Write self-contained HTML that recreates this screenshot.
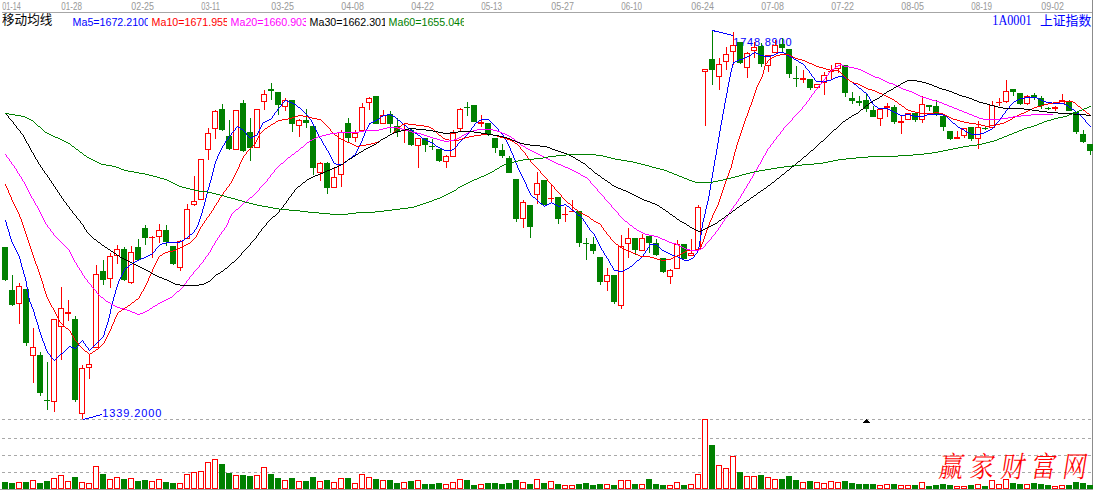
<!DOCTYPE html>
<html lang="zh"><head><meta charset="utf-8"><title>上证指数 移动均线</title>
<style>html,body{margin:0;padding:0;background:#fff;overflow:hidden}svg{display:block}svg text{opacity:.995}text{font-family:"Liberation Sans","Noto Sans CJK SC",sans-serif}.cj{font-family:"Liberation Serif","Noto Serif CJK SC","Noto Sans CJK SC",serif}</style></head><body>
<svg width="1093" height="490" viewBox="0 0 1093 490">
<rect width="1093" height="490" fill="#fff"/>
<g shape-rendering="crispEdges">
<rect x="2" y="12" width="1091" height="1" fill="#a6a6a6"/>
<rect x="1092" y="0" width="1" height="490" fill="#8c8c8c"/>
<rect x="0" y="489" width="1093" height="1" fill="#a0a0a0"/>
<path d="M2 419.5H1091" stroke="#a8a8a8" stroke-width="1" stroke-dasharray="3 3" fill="none"/>
<path d="M2 438.5H1091" stroke="#a8a8a8" stroke-width="1" stroke-dasharray="3 3" fill="none"/>
<path d="M2 455.5H1091" stroke="#a8a8a8" stroke-width="1" stroke-dasharray="3 3" fill="none"/>
<path d="M2 472.5H1091" stroke="#a8a8a8" stroke-width="1" stroke-dasharray="3 3" fill="none"/>
</g>
<g font-size="10.4" fill="#989898">
<text x="2.3" y="10" textLength="18.5" lengthAdjust="spacingAndGlyphs">01-14</text>
<text x="61.3" y="10" textLength="20.6" lengthAdjust="spacingAndGlyphs">01-28</text>
<text x="131.3" y="10" textLength="22.7" lengthAdjust="spacingAndGlyphs">02-25</text>
<text x="201.3" y="10" textLength="18.5" lengthAdjust="spacingAndGlyphs">03-11</text>
<text x="271.3" y="10" textLength="22.7" lengthAdjust="spacingAndGlyphs">03-25</text>
<text x="341.3" y="10" textLength="22.7" lengthAdjust="spacingAndGlyphs">04-08</text>
<text x="411.3" y="10" textLength="22.7" lengthAdjust="spacingAndGlyphs">04-22</text>
<text x="481.3" y="10" textLength="20.6" lengthAdjust="spacingAndGlyphs">05-13</text>
<text x="551.3" y="10" textLength="22.7" lengthAdjust="spacingAndGlyphs">05-27</text>
<text x="621.3" y="10" textLength="20.6" lengthAdjust="spacingAndGlyphs">06-10</text>
<text x="691.3" y="10" textLength="22.7" lengthAdjust="spacingAndGlyphs">06-24</text>
<text x="761.3" y="10" textLength="22.7" lengthAdjust="spacingAndGlyphs">07-08</text>
<text x="831.3" y="10" textLength="22.7" lengthAdjust="spacingAndGlyphs">07-22</text>
<text x="901.3" y="10" textLength="22.7" lengthAdjust="spacingAndGlyphs">08-05</text>
<text x="971.3" y="10" textLength="20.6" lengthAdjust="spacingAndGlyphs">08-19</text>
<text x="1041.3" y="10" textLength="22.7" lengthAdjust="spacingAndGlyphs">09-02</text>
</g>
<text x="2" y="24.3" font-size="12.6" fill="#000">移动均线</text>
<defs>
<clipPath id="c0"><rect x="72" y="13" width="76" height="16"/></clipPath>
<clipPath id="c1"><rect x="151" y="13" width="76" height="16"/></clipPath>
<clipPath id="c2"><rect x="230" y="13" width="76" height="16"/></clipPath>
<clipPath id="c3"><rect x="309" y="13" width="76" height="16"/></clipPath>
<clipPath id="c4"><rect x="388" y="13" width="76" height="16"/></clipPath>
</defs>
<g clip-path="url(#c0)"><text transform="translate(72.6,25.8) scale(0.936,1)" font-size="11.4" fill="#0000ff">Ma5=1672.2100</text></g>
<g clip-path="url(#c1)"><text transform="translate(151.6,25.8) scale(0.936,1)" font-size="11.4" fill="#ff0000">Ma10=1671.9550</text></g>
<g clip-path="url(#c2)"><text transform="translate(230.6,25.8) scale(0.936,1)" font-size="11.4" fill="#ff00ff">Ma20=1660.9030</text></g>
<g clip-path="url(#c3)"><text transform="translate(309.6,25.8) scale(0.936,1)" font-size="11.4" fill="#000000">Ma30=1662.3010</text></g>
<g clip-path="url(#c4)"><text transform="translate(388.6,25.8) scale(0.936,1)" font-size="11.4" fill="#008000">Ma60=1655.0460</text></g>
<text class="cj" x="992.3" y="25.1" font-size="14" fill="#0000ff" textLength="39.3" lengthAdjust="spacingAndGlyphs">1A0001</text>
<text x="1040" y="25" font-size="12.8" fill="#0000ff">上证指数</text>
<text x="733.3" y="46" font-size="11" fill="#0000ff" textLength="58.2" lengthAdjust="spacing">1748.8900</text>
<text x="102.3" y="417" font-size="11" fill="#0000ff" textLength="59" lengthAdjust="spacing">1339.2000</text>
<g shape-rendering="crispEdges">
<rect x="2" y="482" width="6" height="7" fill="#008000"/>
<rect x="5" y="247" width="1" height="34" fill="#008000"/>
<rect x="2" y="247" width="6" height="33" fill="#008000"/>
<rect x="9" y="483" width="6" height="6" fill="#008000"/>
<rect x="12" y="275" width="1" height="31" fill="#008000"/>
<rect x="9" y="290" width="6" height="15" fill="#008000"/>
<rect x="16.5" y="482.5" width="5" height="6" fill="#fff" stroke="#ff0000"/>
<rect x="19" y="283" width="1" height="3" fill="#ff0000"/>
<rect x="19" y="304" width="1" height="20" fill="#ff0000"/>
<rect x="16.5" y="286.5" width="5" height="17" fill="#fff" stroke="#ff0000"/>
<rect x="23" y="482" width="6" height="7" fill="#008000"/>
<rect x="26" y="289" width="1" height="57" fill="#008000"/>
<rect x="23" y="289" width="6" height="54" fill="#008000"/>
<rect x="30.5" y="480.5" width="5" height="8" fill="#fff" stroke="#ff0000"/>
<rect x="33" y="328" width="1" height="19" fill="#ff0000"/>
<rect x="33" y="356" width="1" height="27" fill="#ff0000"/>
<rect x="30.5" y="347.5" width="5" height="8" fill="#fff" stroke="#ff0000"/>
<rect x="37" y="483" width="6" height="6" fill="#008000"/>
<rect x="40" y="352" width="1" height="44" fill="#008000"/>
<rect x="37" y="355" width="6" height="38" fill="#008000"/>
<rect x="44" y="481" width="6" height="8" fill="#008000"/>
<rect x="47" y="362" width="1" height="48" fill="#008000"/>
<rect x="44" y="400" width="6" height="1" fill="#008000"/>
<rect x="51.5" y="478.5" width="5" height="10" fill="#fff" stroke="#ff0000"/>
<rect x="54" y="402" width="1" height="10" fill="#ff0000"/>
<rect x="51.5" y="319.5" width="5" height="82" fill="#fff" stroke="#ff0000"/>
<rect x="58.5" y="475.5" width="5" height="13" fill="#fff" stroke="#ff0000"/>
<rect x="61" y="287" width="1" height="21" fill="#ff0000"/>
<rect x="61" y="327" width="1" height="33" fill="#ff0000"/>
<rect x="58.5" y="308.5" width="5" height="18" fill="#fff" stroke="#ff0000"/>
<rect x="65.5" y="481.5" width="5" height="7" fill="#fff" stroke="#ff0000"/>
<rect x="68" y="300" width="1" height="12" fill="#ff0000"/>
<rect x="68" y="314" width="1" height="7" fill="#ff0000"/>
<rect x="65" y="312" width="6" height="2" fill="#ff0000"/>
<rect x="72" y="477" width="6" height="12" fill="#008000"/>
<rect x="75" y="316" width="1" height="86" fill="#008000"/>
<rect x="72" y="319" width="6" height="81" fill="#008000"/>
<rect x="79.5" y="482.5" width="5" height="6" fill="#fff" stroke="#ff0000"/>
<rect x="82" y="365" width="1" height="3" fill="#ff0000"/>
<rect x="82" y="414" width="1" height="5" fill="#ff0000"/>
<rect x="79.5" y="368.5" width="5" height="45" fill="#fff" stroke="#ff0000"/>
<rect x="86.5" y="483.5" width="5" height="5" fill="#fff" stroke="#ff0000"/>
<rect x="89" y="355" width="1" height="9" fill="#ff0000"/>
<rect x="89" y="368" width="1" height="11" fill="#ff0000"/>
<rect x="86.5" y="364.5" width="5" height="3" fill="#fff" stroke="#ff0000"/>
<rect x="93.5" y="466.5" width="5" height="22" fill="#fff" stroke="#ff0000"/>
<rect x="96" y="265" width="1" height="9" fill="#ff0000"/>
<rect x="93.5" y="274.5" width="5" height="73" fill="#fff" stroke="#ff0000"/>
<rect x="100" y="474" width="6" height="15" fill="#008000"/>
<rect x="103" y="260" width="1" height="25" fill="#008000"/>
<rect x="100" y="271" width="6" height="9" fill="#008000"/>
<rect x="107.5" y="479.5" width="5" height="9" fill="#fff" stroke="#ff0000"/>
<rect x="110" y="253" width="1" height="3" fill="#ff0000"/>
<rect x="110" y="279" width="1" height="9" fill="#ff0000"/>
<rect x="107.5" y="256.5" width="5" height="22" fill="#fff" stroke="#ff0000"/>
<rect x="114.5" y="477.5" width="5" height="11" fill="#fff" stroke="#ff0000"/>
<rect x="117" y="245" width="1" height="4" fill="#ff0000"/>
<rect x="117" y="256" width="1" height="8" fill="#ff0000"/>
<rect x="114.5" y="249.5" width="5" height="6" fill="#fff" stroke="#ff0000"/>
<rect x="121" y="479" width="6" height="10" fill="#008000"/>
<rect x="124" y="247" width="1" height="34" fill="#008000"/>
<rect x="121" y="249" width="6" height="31" fill="#008000"/>
<rect x="128.5" y="478.5" width="5" height="10" fill="#fff" stroke="#ff0000"/>
<rect x="131" y="246" width="1" height="6" fill="#ff0000"/>
<rect x="131" y="283" width="1" height="1" fill="#ff0000"/>
<rect x="128.5" y="252.5" width="5" height="30" fill="#fff" stroke="#ff0000"/>
<rect x="135" y="481" width="6" height="8" fill="#008000"/>
<rect x="138" y="239" width="1" height="21" fill="#008000"/>
<rect x="135" y="247" width="6" height="13" fill="#008000"/>
<rect x="142" y="480" width="6" height="9" fill="#008000"/>
<rect x="145" y="225" width="1" height="20" fill="#008000"/>
<rect x="142" y="228" width="6" height="10" fill="#008000"/>
<rect x="149.5" y="481.5" width="5" height="7" fill="#fff" stroke="#ff0000"/>
<rect x="152" y="236" width="1" height="1" fill="#ff0000"/>
<rect x="152" y="238" width="1" height="20" fill="#ff0000"/>
<rect x="149" y="237" width="6" height="1" fill="#ff0000"/>
<rect x="156.5" y="479.5" width="5" height="9" fill="#fff" stroke="#ff0000"/>
<rect x="159" y="224" width="1" height="6" fill="#ff0000"/>
<rect x="159" y="237" width="1" height="6" fill="#ff0000"/>
<rect x="156.5" y="230.5" width="5" height="6" fill="#fff" stroke="#ff0000"/>
<rect x="163" y="482" width="6" height="7" fill="#008000"/>
<rect x="166" y="225" width="1" height="21" fill="#008000"/>
<rect x="163" y="230" width="6" height="12" fill="#008000"/>
<rect x="170" y="483" width="6" height="6" fill="#008000"/>
<rect x="173" y="246" width="1" height="19" fill="#008000"/>
<rect x="170" y="246" width="6" height="18" fill="#008000"/>
<rect x="177.5" y="483.5" width="5" height="5" fill="#fff" stroke="#ff0000"/>
<rect x="180" y="240" width="1" height="1" fill="#ff0000"/>
<rect x="180" y="268" width="1" height="3" fill="#ff0000"/>
<rect x="177.5" y="241.5" width="5" height="26" fill="#fff" stroke="#ff0000"/>
<rect x="184.5" y="474.5" width="5" height="14" fill="#fff" stroke="#ff0000"/>
<rect x="187" y="204" width="1" height="5" fill="#ff0000"/>
<rect x="184.5" y="209.5" width="5" height="29" fill="#fff" stroke="#ff0000"/>
<rect x="191.5" y="472.5" width="5" height="16" fill="#fff" stroke="#ff0000"/>
<rect x="194" y="176" width="1" height="25" fill="#ff0000"/>
<rect x="194" y="205" width="1" height="1" fill="#ff0000"/>
<rect x="191.5" y="201.5" width="5" height="3" fill="#fff" stroke="#ff0000"/>
<rect x="198.5" y="471.5" width="5" height="17" fill="#fff" stroke="#ff0000"/>
<rect x="198.5" y="159.5" width="5" height="40" fill="#fff" stroke="#ff0000"/>
<rect x="205.5" y="462.5" width="5" height="26" fill="#fff" stroke="#ff0000"/>
<rect x="208" y="128" width="1" height="5" fill="#ff0000"/>
<rect x="208" y="150" width="1" height="10" fill="#ff0000"/>
<rect x="205.5" y="133.5" width="5" height="16" fill="#fff" stroke="#ff0000"/>
<rect x="212.5" y="459.5" width="5" height="29" fill="#fff" stroke="#ff0000"/>
<rect x="215" y="110" width="1" height="1" fill="#ff0000"/>
<rect x="215" y="129" width="1" height="10" fill="#ff0000"/>
<rect x="212.5" y="111.5" width="5" height="17" fill="#fff" stroke="#ff0000"/>
<rect x="219" y="464" width="6" height="25" fill="#008000"/>
<rect x="222" y="104" width="1" height="27" fill="#008000"/>
<rect x="219" y="109" width="6" height="21" fill="#008000"/>
<rect x="226" y="473" width="6" height="16" fill="#008000"/>
<rect x="229" y="120" width="1" height="30" fill="#008000"/>
<rect x="226" y="136" width="6" height="13" fill="#008000"/>
<rect x="233.5" y="475.5" width="5" height="13" fill="#fff" stroke="#ff0000"/>
<rect x="233.5" y="110.5" width="5" height="39" fill="#fff" stroke="#ff0000"/>
<rect x="240" y="475" width="6" height="14" fill="#008000"/>
<rect x="243" y="100" width="1" height="52" fill="#008000"/>
<rect x="240" y="103" width="6" height="48" fill="#008000"/>
<rect x="247" y="476" width="6" height="13" fill="#008000"/>
<rect x="250" y="118" width="1" height="43" fill="#008000"/>
<rect x="247" y="132" width="6" height="16" fill="#008000"/>
<rect x="254.5" y="475.5" width="5" height="13" fill="#fff" stroke="#ff0000"/>
<rect x="254.5" y="109.5" width="5" height="38" fill="#fff" stroke="#ff0000"/>
<rect x="261.5" y="467.5" width="5" height="21" fill="#fff" stroke="#ff0000"/>
<rect x="264" y="90" width="1" height="4" fill="#ff0000"/>
<rect x="264" y="102" width="1" height="8" fill="#ff0000"/>
<rect x="261.5" y="94.5" width="5" height="7" fill="#fff" stroke="#ff0000"/>
<rect x="268" y="474" width="6" height="15" fill="#008000"/>
<rect x="271" y="83" width="1" height="17" fill="#008000"/>
<rect x="268" y="89" width="6" height="2" fill="#008000"/>
<rect x="275" y="478" width="6" height="11" fill="#008000"/>
<rect x="278" y="92" width="1" height="23" fill="#008000"/>
<rect x="275" y="92" width="6" height="13" fill="#008000"/>
<rect x="282.5" y="480.5" width="5" height="8" fill="#fff" stroke="#ff0000"/>
<rect x="285" y="98" width="1" height="2" fill="#ff0000"/>
<rect x="285" y="107" width="1" height="4" fill="#ff0000"/>
<rect x="282.5" y="100.5" width="5" height="6" fill="#fff" stroke="#ff0000"/>
<rect x="289" y="478" width="6" height="11" fill="#008000"/>
<rect x="292" y="100" width="1" height="32" fill="#008000"/>
<rect x="289" y="100" width="6" height="24" fill="#008000"/>
<rect x="296.5" y="481.5" width="5" height="7" fill="#fff" stroke="#ff0000"/>
<rect x="299" y="119" width="1" height="1" fill="#ff0000"/>
<rect x="299" y="126" width="1" height="11" fill="#ff0000"/>
<rect x="296.5" y="120.5" width="5" height="5" fill="#fff" stroke="#ff0000"/>
<rect x="303" y="481" width="6" height="8" fill="#008000"/>
<rect x="306" y="109" width="1" height="19" fill="#008000"/>
<rect x="303" y="120" width="6" height="3" fill="#008000"/>
<rect x="310" y="477" width="6" height="12" fill="#008000"/>
<rect x="313" y="126" width="1" height="49" fill="#008000"/>
<rect x="310" y="126" width="6" height="42" fill="#008000"/>
<rect x="317.5" y="481.5" width="5" height="7" fill="#fff" stroke="#ff0000"/>
<rect x="320" y="162" width="1" height="1" fill="#ff0000"/>
<rect x="320" y="173" width="1" height="8" fill="#ff0000"/>
<rect x="317.5" y="163.5" width="5" height="9" fill="#fff" stroke="#ff0000"/>
<rect x="324" y="480" width="6" height="9" fill="#008000"/>
<rect x="327" y="162" width="1" height="32" fill="#008000"/>
<rect x="324" y="163" width="6" height="25" fill="#008000"/>
<rect x="331.5" y="482.5" width="5" height="6" fill="#fff" stroke="#ff0000"/>
<rect x="334" y="168" width="1" height="9" fill="#ff0000"/>
<rect x="331.5" y="177.5" width="5" height="10" fill="#fff" stroke="#ff0000"/>
<rect x="338.5" y="478.5" width="5" height="10" fill="#fff" stroke="#ff0000"/>
<rect x="341" y="130" width="1" height="2" fill="#ff0000"/>
<rect x="341" y="175" width="1" height="12" fill="#ff0000"/>
<rect x="338.5" y="132.5" width="5" height="42" fill="#fff" stroke="#ff0000"/>
<rect x="345" y="478" width="6" height="11" fill="#008000"/>
<rect x="348" y="118" width="1" height="25" fill="#008000"/>
<rect x="345" y="123" width="6" height="15" fill="#008000"/>
<rect x="352.5" y="483.5" width="5" height="5" fill="#fff" stroke="#ff0000"/>
<rect x="355" y="130" width="1" height="3" fill="#ff0000"/>
<rect x="355" y="138" width="1" height="4" fill="#ff0000"/>
<rect x="352.5" y="133.5" width="5" height="4" fill="#fff" stroke="#ff0000"/>
<rect x="359.5" y="474.5" width="5" height="14" fill="#fff" stroke="#ff0000"/>
<rect x="362" y="103" width="1" height="4" fill="#ff0000"/>
<rect x="359.5" y="107.5" width="5" height="23" fill="#fff" stroke="#ff0000"/>
<rect x="366.5" y="477.5" width="5" height="11" fill="#fff" stroke="#ff0000"/>
<rect x="369" y="97" width="1" height="1" fill="#ff0000"/>
<rect x="369" y="103" width="1" height="7" fill="#ff0000"/>
<rect x="366.5" y="98.5" width="5" height="4" fill="#fff" stroke="#ff0000"/>
<rect x="373" y="479" width="6" height="10" fill="#008000"/>
<rect x="376" y="96" width="1" height="28" fill="#008000"/>
<rect x="373" y="96" width="6" height="28" fill="#008000"/>
<rect x="380.5" y="480.5" width="5" height="8" fill="#fff" stroke="#ff0000"/>
<rect x="383" y="110" width="1" height="5" fill="#ff0000"/>
<rect x="380.5" y="115.5" width="5" height="8" fill="#fff" stroke="#ff0000"/>
<rect x="387" y="480" width="6" height="9" fill="#008000"/>
<rect x="390" y="111" width="1" height="22" fill="#008000"/>
<rect x="387" y="114" width="6" height="10" fill="#008000"/>
<rect x="394" y="483" width="6" height="6" fill="#008000"/>
<rect x="397" y="118" width="1" height="19" fill="#008000"/>
<rect x="394" y="126" width="6" height="6" fill="#008000"/>
<rect x="401.5" y="482.5" width="5" height="6" fill="#fff" stroke="#ff0000"/>
<rect x="404" y="123" width="1" height="7" fill="#ff0000"/>
<rect x="404" y="131" width="1" height="12" fill="#ff0000"/>
<rect x="401" y="130" width="6" height="1" fill="#ff0000"/>
<rect x="408" y="481" width="6" height="8" fill="#008000"/>
<rect x="411" y="128" width="1" height="18" fill="#008000"/>
<rect x="408" y="130" width="6" height="15" fill="#008000"/>
<rect x="415.5" y="480.5" width="5" height="8" fill="#fff" stroke="#ff0000"/>
<rect x="418" y="146" width="1" height="22" fill="#ff0000"/>
<rect x="415.5" y="138.5" width="5" height="7" fill="#fff" stroke="#ff0000"/>
<rect x="422" y="484" width="6" height="5" fill="#008000"/>
<rect x="425" y="138" width="1" height="14" fill="#008000"/>
<rect x="422" y="138" width="6" height="7" fill="#008000"/>
<rect x="429" y="484" width="6" height="5" fill="#008000"/>
<rect x="432" y="139" width="1" height="11" fill="#008000"/>
<rect x="429" y="146" width="6" height="1" fill="#008000"/>
<rect x="436" y="483" width="6" height="6" fill="#008000"/>
<rect x="439" y="149" width="1" height="13" fill="#008000"/>
<rect x="436" y="149" width="6" height="12" fill="#008000"/>
<rect x="443.5" y="484.5" width="5" height="4" fill="#fff" stroke="#ff0000"/>
<rect x="446" y="155" width="1" height="1" fill="#ff0000"/>
<rect x="446" y="162" width="1" height="6" fill="#ff0000"/>
<rect x="443.5" y="156.5" width="5" height="5" fill="#fff" stroke="#ff0000"/>
<rect x="450.5" y="482.5" width="5" height="6" fill="#fff" stroke="#ff0000"/>
<rect x="453" y="130" width="1" height="3" fill="#ff0000"/>
<rect x="450.5" y="133.5" width="5" height="23" fill="#fff" stroke="#ff0000"/>
<rect x="457.5" y="479.5" width="5" height="9" fill="#fff" stroke="#ff0000"/>
<rect x="460" y="108" width="1" height="1" fill="#ff0000"/>
<rect x="460" y="129" width="1" height="3" fill="#ff0000"/>
<rect x="457.5" y="109.5" width="5" height="19" fill="#fff" stroke="#ff0000"/>
<rect x="464" y="480" width="6" height="9" fill="#008000"/>
<rect x="467" y="102" width="1" height="14" fill="#008000"/>
<rect x="464" y="107" width="6" height="1" fill="#008000"/>
<rect x="471" y="485" width="6" height="4" fill="#008000"/>
<rect x="474" y="105" width="1" height="17" fill="#008000"/>
<rect x="471" y="105" width="6" height="17" fill="#008000"/>
<rect x="478.5" y="484.5" width="5" height="4" fill="#fff" stroke="#ff0000"/>
<rect x="481" y="115" width="1" height="7" fill="#ff0000"/>
<rect x="481" y="124" width="1" height="3" fill="#ff0000"/>
<rect x="478" y="122" width="6" height="2" fill="#ff0000"/>
<rect x="485" y="483" width="6" height="6" fill="#008000"/>
<rect x="488" y="123" width="1" height="13" fill="#008000"/>
<rect x="485" y="123" width="6" height="11" fill="#008000"/>
<rect x="492" y="483" width="6" height="6" fill="#008000"/>
<rect x="495" y="138" width="1" height="15" fill="#008000"/>
<rect x="492" y="138" width="6" height="10" fill="#008000"/>
<rect x="499" y="484" width="6" height="5" fill="#008000"/>
<rect x="502" y="144" width="1" height="14" fill="#008000"/>
<rect x="499" y="150" width="6" height="6" fill="#008000"/>
<rect x="506" y="483" width="6" height="6" fill="#008000"/>
<rect x="509" y="156" width="1" height="17" fill="#008000"/>
<rect x="506" y="158" width="6" height="15" fill="#008000"/>
<rect x="513" y="480" width="6" height="9" fill="#008000"/>
<rect x="516" y="179" width="1" height="43" fill="#008000"/>
<rect x="513" y="179" width="6" height="40" fill="#008000"/>
<rect x="520.5" y="482.5" width="5" height="6" fill="#fff" stroke="#ff0000"/>
<rect x="523" y="200" width="1" height="2" fill="#ff0000"/>
<rect x="523" y="219" width="1" height="9" fill="#ff0000"/>
<rect x="520.5" y="202.5" width="5" height="16" fill="#fff" stroke="#ff0000"/>
<rect x="527" y="484" width="6" height="5" fill="#008000"/>
<rect x="530" y="205" width="1" height="33" fill="#008000"/>
<rect x="527" y="205" width="6" height="22" fill="#008000"/>
<rect x="534.5" y="479.5" width="5" height="9" fill="#fff" stroke="#ff0000"/>
<rect x="537" y="172" width="1" height="11" fill="#ff0000"/>
<rect x="537" y="195" width="1" height="9" fill="#ff0000"/>
<rect x="534.5" y="183.5" width="5" height="11" fill="#fff" stroke="#ff0000"/>
<rect x="541" y="483" width="6" height="6" fill="#008000"/>
<rect x="544" y="180" width="1" height="25" fill="#008000"/>
<rect x="541" y="180" width="6" height="25" fill="#008000"/>
<rect x="548.5" y="481.5" width="5" height="7" fill="#fff" stroke="#ff0000"/>
<rect x="551" y="185" width="1" height="13" fill="#ff0000"/>
<rect x="551" y="199" width="1" height="3" fill="#ff0000"/>
<rect x="548" y="198" width="6" height="1" fill="#ff0000"/>
<rect x="555" y="484" width="6" height="5" fill="#008000"/>
<rect x="558" y="197" width="1" height="27" fill="#008000"/>
<rect x="555" y="197" width="6" height="22" fill="#008000"/>
<rect x="562.5" y="485.5" width="5" height="3" fill="#fff" stroke="#ff0000"/>
<rect x="565" y="207" width="1" height="7" fill="#ff0000"/>
<rect x="565" y="215" width="1" height="7" fill="#ff0000"/>
<rect x="562" y="214" width="6" height="1" fill="#ff0000"/>
<rect x="569.5" y="485.5" width="5" height="3" fill="#fff" stroke="#ff0000"/>
<rect x="572" y="200" width="1" height="11" fill="#ff0000"/>
<rect x="569" y="211" width="6" height="1" fill="#ff0000"/>
<rect x="576" y="484" width="6" height="5" fill="#008000"/>
<rect x="579" y="211" width="1" height="36" fill="#008000"/>
<rect x="576" y="211" width="6" height="32" fill="#008000"/>
<rect x="583" y="483" width="6" height="6" fill="#008000"/>
<rect x="586" y="238" width="1" height="22" fill="#008000"/>
<rect x="583" y="243" width="6" height="1" fill="#008000"/>
<rect x="590" y="485" width="6" height="4" fill="#008000"/>
<rect x="593" y="237" width="1" height="17" fill="#008000"/>
<rect x="590" y="244" width="6" height="7" fill="#008000"/>
<rect x="597" y="484" width="6" height="5" fill="#008000"/>
<rect x="600" y="257" width="1" height="28" fill="#008000"/>
<rect x="597" y="257" width="6" height="25" fill="#008000"/>
<rect x="604.5" y="484.5" width="5" height="4" fill="#fff" stroke="#ff0000"/>
<rect x="607" y="268" width="1" height="7" fill="#ff0000"/>
<rect x="607" y="282" width="1" height="9" fill="#ff0000"/>
<rect x="604.5" y="275.5" width="5" height="6" fill="#fff" stroke="#ff0000"/>
<rect x="611" y="485" width="6" height="4" fill="#008000"/>
<rect x="614" y="275" width="1" height="29" fill="#008000"/>
<rect x="611" y="275" width="6" height="27" fill="#008000"/>
<rect x="618.5" y="480.5" width="5" height="8" fill="#fff" stroke="#ff0000"/>
<rect x="621" y="235" width="1" height="11" fill="#ff0000"/>
<rect x="621" y="306" width="1" height="3" fill="#ff0000"/>
<rect x="618.5" y="246.5" width="5" height="59" fill="#fff" stroke="#ff0000"/>
<rect x="625.5" y="480.5" width="5" height="8" fill="#fff" stroke="#ff0000"/>
<rect x="628" y="228" width="1" height="10" fill="#ff0000"/>
<rect x="628" y="244" width="1" height="14" fill="#ff0000"/>
<rect x="625.5" y="238.5" width="5" height="5" fill="#fff" stroke="#ff0000"/>
<rect x="632" y="484" width="6" height="5" fill="#008000"/>
<rect x="635" y="238" width="1" height="17" fill="#008000"/>
<rect x="632" y="238" width="6" height="12" fill="#008000"/>
<rect x="639.5" y="484.5" width="5" height="4" fill="#fff" stroke="#ff0000"/>
<rect x="642" y="234" width="1" height="4" fill="#ff0000"/>
<rect x="639.5" y="238.5" width="5" height="12" fill="#fff" stroke="#ff0000"/>
<rect x="646" y="479" width="6" height="10" fill="#008000"/>
<rect x="649" y="236" width="1" height="17" fill="#008000"/>
<rect x="646" y="236" width="6" height="7" fill="#008000"/>
<rect x="653" y="484" width="6" height="5" fill="#008000"/>
<rect x="656" y="239" width="1" height="17" fill="#008000"/>
<rect x="653" y="243" width="6" height="12" fill="#008000"/>
<rect x="660" y="485" width="6" height="4" fill="#008000"/>
<rect x="663" y="258" width="1" height="15" fill="#008000"/>
<rect x="660" y="258" width="6" height="14" fill="#008000"/>
<rect x="667.5" y="485.5" width="5" height="3" fill="#fff" stroke="#ff0000"/>
<rect x="670" y="269" width="1" height="1" fill="#ff0000"/>
<rect x="670" y="277" width="1" height="7" fill="#ff0000"/>
<rect x="667.5" y="270.5" width="5" height="6" fill="#fff" stroke="#ff0000"/>
<rect x="674.5" y="482.5" width="5" height="6" fill="#fff" stroke="#ff0000"/>
<rect x="677" y="240" width="1" height="4" fill="#ff0000"/>
<rect x="674.5" y="244.5" width="5" height="24" fill="#fff" stroke="#ff0000"/>
<rect x="681" y="485" width="6" height="4" fill="#008000"/>
<rect x="684" y="244" width="1" height="15" fill="#008000"/>
<rect x="681" y="244" width="6" height="15" fill="#008000"/>
<rect x="688.5" y="484.5" width="5" height="4" fill="#fff" stroke="#ff0000"/>
<rect x="691" y="239" width="1" height="14" fill="#ff0000"/>
<rect x="688.5" y="253.5" width="5" height="2" fill="#fff" stroke="#ff0000"/>
<rect x="695.5" y="474.5" width="5" height="14" fill="#fff" stroke="#ff0000"/>
<rect x="698" y="205" width="1" height="2" fill="#ff0000"/>
<rect x="695.5" y="207.5" width="5" height="42" fill="#fff" stroke="#ff0000"/>
<rect x="702.5" y="419.5" width="5" height="69" fill="#fff" stroke="#ff0000"/>
<rect x="705" y="72" width="1" height="54" fill="#ff0000"/>
<rect x="702.5" y="69.5" width="5" height="2" fill="#fff" stroke="#ff0000"/>
<rect x="709" y="445" width="6" height="44" fill="#008000"/>
<rect x="712" y="30" width="1" height="55" fill="#008000"/>
<rect x="709" y="59" width="6" height="11" fill="#008000"/>
<rect x="716.5" y="465.5" width="5" height="23" fill="#fff" stroke="#ff0000"/>
<rect x="719" y="58" width="1" height="6" fill="#ff0000"/>
<rect x="719" y="77" width="1" height="13" fill="#ff0000"/>
<rect x="716.5" y="64.5" width="5" height="12" fill="#fff" stroke="#ff0000"/>
<rect x="723.5" y="468.5" width="5" height="20" fill="#fff" stroke="#ff0000"/>
<rect x="726" y="47" width="1" height="7" fill="#ff0000"/>
<rect x="726" y="62" width="1" height="8" fill="#ff0000"/>
<rect x="723.5" y="54.5" width="5" height="7" fill="#fff" stroke="#ff0000"/>
<rect x="730.5" y="456.5" width="5" height="32" fill="#fff" stroke="#ff0000"/>
<rect x="733" y="32" width="1" height="13" fill="#ff0000"/>
<rect x="733" y="52" width="1" height="13" fill="#ff0000"/>
<rect x="730.5" y="45.5" width="5" height="6" fill="#fff" stroke="#ff0000"/>
<rect x="737" y="472" width="6" height="17" fill="#008000"/>
<rect x="740" y="42" width="1" height="22" fill="#008000"/>
<rect x="737" y="42" width="6" height="21" fill="#008000"/>
<rect x="744.5" y="476.5" width="5" height="12" fill="#fff" stroke="#ff0000"/>
<rect x="747" y="52" width="1" height="1" fill="#ff0000"/>
<rect x="747" y="68" width="1" height="10" fill="#ff0000"/>
<rect x="744.5" y="53.5" width="5" height="14" fill="#fff" stroke="#ff0000"/>
<rect x="751.5" y="476.5" width="5" height="12" fill="#fff" stroke="#ff0000"/>
<rect x="754" y="42" width="1" height="5" fill="#ff0000"/>
<rect x="754" y="51" width="1" height="7" fill="#ff0000"/>
<rect x="751.5" y="47.5" width="5" height="3" fill="#fff" stroke="#ff0000"/>
<rect x="758" y="475" width="6" height="14" fill="#008000"/>
<rect x="761" y="43" width="1" height="24" fill="#008000"/>
<rect x="758" y="46" width="6" height="18" fill="#008000"/>
<rect x="765.5" y="477.5" width="5" height="11" fill="#fff" stroke="#ff0000"/>
<rect x="768" y="66" width="1" height="6" fill="#ff0000"/>
<rect x="765.5" y="55.5" width="5" height="10" fill="#fff" stroke="#ff0000"/>
<rect x="772.5" y="479.5" width="5" height="9" fill="#fff" stroke="#ff0000"/>
<rect x="775" y="40" width="1" height="5" fill="#ff0000"/>
<rect x="772.5" y="45.5" width="5" height="7" fill="#fff" stroke="#ff0000"/>
<rect x="779" y="479" width="6" height="10" fill="#008000"/>
<rect x="782" y="38" width="1" height="14" fill="#008000"/>
<rect x="779" y="44" width="6" height="4" fill="#008000"/>
<rect x="786" y="476" width="6" height="13" fill="#008000"/>
<rect x="789" y="49" width="1" height="29" fill="#008000"/>
<rect x="786" y="49" width="6" height="25" fill="#008000"/>
<rect x="793" y="480" width="6" height="9" fill="#008000"/>
<rect x="796" y="66" width="1" height="21" fill="#008000"/>
<rect x="793" y="78" width="6" height="1" fill="#008000"/>
<rect x="800.5" y="482.5" width="5" height="6" fill="#fff" stroke="#ff0000"/>
<rect x="803" y="70" width="1" height="8" fill="#ff0000"/>
<rect x="803" y="80" width="1" height="3" fill="#ff0000"/>
<rect x="800" y="78" width="6" height="2" fill="#ff0000"/>
<rect x="807" y="481" width="6" height="8" fill="#008000"/>
<rect x="810" y="79" width="1" height="11" fill="#008000"/>
<rect x="807" y="79" width="6" height="9" fill="#008000"/>
<rect x="814.5" y="482.5" width="5" height="6" fill="#fff" stroke="#ff0000"/>
<rect x="814.5" y="84.5" width="5" height="3" fill="#fff" stroke="#ff0000"/>
<rect x="821.5" y="483.5" width="5" height="5" fill="#fff" stroke="#ff0000"/>
<rect x="824" y="72" width="1" height="3" fill="#ff0000"/>
<rect x="824" y="83" width="1" height="12" fill="#ff0000"/>
<rect x="821.5" y="75.5" width="5" height="7" fill="#fff" stroke="#ff0000"/>
<rect x="828.5" y="481.5" width="5" height="7" fill="#fff" stroke="#ff0000"/>
<rect x="831" y="65" width="1" height="6" fill="#ff0000"/>
<rect x="831" y="72" width="1" height="8" fill="#ff0000"/>
<rect x="828" y="71" width="6" height="1" fill="#ff0000"/>
<rect x="835.5" y="482.5" width="5" height="6" fill="#fff" stroke="#ff0000"/>
<rect x="838" y="69" width="1" height="4" fill="#ff0000"/>
<rect x="835.5" y="63.5" width="5" height="5" fill="#fff" stroke="#ff0000"/>
<rect x="842" y="481" width="6" height="8" fill="#008000"/>
<rect x="845" y="65" width="1" height="32" fill="#008000"/>
<rect x="842" y="65" width="6" height="28" fill="#008000"/>
<rect x="849" y="483" width="6" height="6" fill="#008000"/>
<rect x="852" y="92" width="1" height="12" fill="#008000"/>
<rect x="849" y="98" width="6" height="3" fill="#008000"/>
<rect x="856" y="484" width="6" height="5" fill="#008000"/>
<rect x="859" y="96" width="1" height="10" fill="#008000"/>
<rect x="856" y="101" width="6" height="2" fill="#008000"/>
<rect x="863" y="484" width="6" height="5" fill="#008000"/>
<rect x="866" y="94" width="1" height="18" fill="#008000"/>
<rect x="863" y="100" width="6" height="9" fill="#008000"/>
<rect x="870" y="484" width="6" height="5" fill="#008000"/>
<rect x="873" y="106" width="1" height="11" fill="#008000"/>
<rect x="870" y="110" width="6" height="7" fill="#008000"/>
<rect x="877.5" y="485.5" width="5" height="3" fill="#fff" stroke="#ff0000"/>
<rect x="880" y="119" width="1" height="7" fill="#ff0000"/>
<rect x="877.5" y="109.5" width="5" height="9" fill="#fff" stroke="#ff0000"/>
<rect x="884.5" y="484.5" width="5" height="4" fill="#fff" stroke="#ff0000"/>
<rect x="887" y="103" width="1" height="3" fill="#ff0000"/>
<rect x="887" y="108" width="1" height="9" fill="#ff0000"/>
<rect x="884" y="106" width="6" height="2" fill="#ff0000"/>
<rect x="891" y="484" width="6" height="5" fill="#008000"/>
<rect x="894" y="105" width="1" height="19" fill="#008000"/>
<rect x="891" y="107" width="6" height="15" fill="#008000"/>
<rect x="898.5" y="485.5" width="5" height="3" fill="#fff" stroke="#ff0000"/>
<rect x="901" y="116" width="1" height="5" fill="#ff0000"/>
<rect x="901" y="123" width="1" height="11" fill="#ff0000"/>
<rect x="898" y="121" width="6" height="2" fill="#ff0000"/>
<rect x="905.5" y="485.5" width="5" height="3" fill="#fff" stroke="#ff0000"/>
<rect x="905.5" y="113.5" width="5" height="6" fill="#fff" stroke="#ff0000"/>
<rect x="912" y="485" width="6" height="4" fill="#008000"/>
<rect x="915" y="113" width="1" height="9" fill="#008000"/>
<rect x="912" y="113" width="6" height="7" fill="#008000"/>
<rect x="919.5" y="482.5" width="5" height="6" fill="#fff" stroke="#ff0000"/>
<rect x="922" y="96" width="1" height="8" fill="#ff0000"/>
<rect x="922" y="120" width="1" height="3" fill="#ff0000"/>
<rect x="919.5" y="104.5" width="5" height="15" fill="#fff" stroke="#ff0000"/>
<rect x="926" y="486" width="6" height="3" fill="#008000"/>
<rect x="929" y="105" width="1" height="6" fill="#008000"/>
<rect x="926" y="105" width="6" height="2" fill="#008000"/>
<rect x="933" y="485" width="6" height="4" fill="#008000"/>
<rect x="936" y="100" width="1" height="16" fill="#008000"/>
<rect x="933" y="106" width="6" height="8" fill="#008000"/>
<rect x="940" y="484" width="6" height="5" fill="#008000"/>
<rect x="943" y="116" width="1" height="15" fill="#008000"/>
<rect x="940" y="116" width="6" height="11" fill="#008000"/>
<rect x="947" y="485" width="6" height="4" fill="#008000"/>
<rect x="950" y="131" width="1" height="9" fill="#008000"/>
<rect x="947" y="131" width="6" height="8" fill="#008000"/>
<rect x="954.5" y="486.5" width="5" height="2" fill="#fff" stroke="#ff0000"/>
<rect x="957" y="131" width="1" height="6" fill="#ff0000"/>
<rect x="954" y="137" width="6" height="2" fill="#ff0000"/>
<rect x="961.5" y="486.5" width="5" height="2" fill="#fff" stroke="#ff0000"/>
<rect x="964" y="136" width="1" height="2" fill="#ff0000"/>
<rect x="961.5" y="128.5" width="5" height="7" fill="#fff" stroke="#ff0000"/>
<rect x="968" y="485" width="6" height="4" fill="#008000"/>
<rect x="971" y="127" width="1" height="14" fill="#008000"/>
<rect x="968" y="127" width="6" height="12" fill="#008000"/>
<rect x="975.5" y="484.5" width="5" height="4" fill="#fff" stroke="#ff0000"/>
<rect x="978" y="121" width="1" height="6" fill="#ff0000"/>
<rect x="978" y="139" width="1" height="10" fill="#ff0000"/>
<rect x="975.5" y="127.5" width="5" height="11" fill="#fff" stroke="#ff0000"/>
<rect x="982" y="486" width="6" height="3" fill="#008000"/>
<rect x="985" y="126" width="1" height="4" fill="#008000"/>
<rect x="982" y="128" width="6" height="1" fill="#008000"/>
<rect x="989.5" y="480.5" width="5" height="8" fill="#fff" stroke="#ff0000"/>
<rect x="992" y="101" width="1" height="4" fill="#ff0000"/>
<rect x="989.5" y="105.5" width="5" height="22" fill="#fff" stroke="#ff0000"/>
<rect x="996.5" y="484.5" width="5" height="4" fill="#fff" stroke="#ff0000"/>
<rect x="999" y="98" width="1" height="4" fill="#ff0000"/>
<rect x="999" y="103" width="1" height="3" fill="#ff0000"/>
<rect x="996" y="102" width="6" height="1" fill="#ff0000"/>
<rect x="1003.5" y="479.5" width="5" height="9" fill="#fff" stroke="#ff0000"/>
<rect x="1006" y="80" width="1" height="11" fill="#ff0000"/>
<rect x="1006" y="102" width="1" height="1" fill="#ff0000"/>
<rect x="1003.5" y="91.5" width="5" height="10" fill="#fff" stroke="#ff0000"/>
<rect x="1010" y="483" width="6" height="6" fill="#008000"/>
<rect x="1013" y="89" width="1" height="7" fill="#008000"/>
<rect x="1010" y="89" width="6" height="3" fill="#008000"/>
<rect x="1017" y="484" width="6" height="5" fill="#008000"/>
<rect x="1020" y="93" width="1" height="12" fill="#008000"/>
<rect x="1017" y="93" width="6" height="11" fill="#008000"/>
<rect x="1024.5" y="484.5" width="5" height="4" fill="#fff" stroke="#ff0000"/>
<rect x="1027" y="95" width="1" height="1" fill="#ff0000"/>
<rect x="1027" y="104" width="1" height="1" fill="#ff0000"/>
<rect x="1024.5" y="96.5" width="5" height="7" fill="#fff" stroke="#ff0000"/>
<rect x="1031" y="483" width="6" height="6" fill="#008000"/>
<rect x="1034" y="93" width="1" height="7" fill="#008000"/>
<rect x="1031" y="95" width="6" height="2" fill="#008000"/>
<rect x="1038" y="484" width="6" height="5" fill="#008000"/>
<rect x="1041" y="96" width="1" height="13" fill="#008000"/>
<rect x="1038" y="98" width="6" height="8" fill="#008000"/>
<rect x="1045" y="485" width="6" height="4" fill="#008000"/>
<rect x="1048" y="107" width="1" height="3" fill="#008000"/>
<rect x="1045" y="108" width="6" height="1" fill="#008000"/>
<rect x="1052.5" y="486.5" width="5" height="2" fill="#fff" stroke="#ff0000"/>
<rect x="1055" y="106" width="1" height="1" fill="#ff0000"/>
<rect x="1055" y="109" width="1" height="2" fill="#ff0000"/>
<rect x="1052" y="107" width="6" height="2" fill="#ff0000"/>
<rect x="1059.5" y="485.5" width="5" height="3" fill="#fff" stroke="#ff0000"/>
<rect x="1062" y="94" width="1" height="6" fill="#ff0000"/>
<rect x="1059.5" y="100.5" width="5" height="3" fill="#fff" stroke="#ff0000"/>
<rect x="1066" y="485" width="6" height="4" fill="#008000"/>
<rect x="1069" y="100" width="1" height="11" fill="#008000"/>
<rect x="1066" y="101" width="6" height="10" fill="#008000"/>
<rect x="1073" y="482" width="6" height="7" fill="#008000"/>
<rect x="1076" y="112" width="1" height="22" fill="#008000"/>
<rect x="1073" y="112" width="6" height="20" fill="#008000"/>
<rect x="1080" y="483" width="6" height="6" fill="#008000"/>
<rect x="1083" y="130" width="1" height="13" fill="#008000"/>
<rect x="1080" y="134" width="6" height="8" fill="#008000"/>
<rect x="1087" y="485" width="6" height="4" fill="#008000"/>
<rect x="1090" y="144" width="1" height="11" fill="#008000"/>
<rect x="1087" y="144" width="6" height="7" fill="#008000"/>
<path fill="#0000ff" d="M5 220h1v2h-1zM6 222h1v4h-1zM7 226h1v3h-1zM8 229h1v3h-1zM9 232h1v4h-1zM10 236h1v3h-1zM11 239h1v3h-1zM12 242h1v2h-1zM13 244h1v2h-1zM14 246h1v2h-1zM15 248h1v2h-1zM16 250h1v2h-1zM17 252h1v2h-1zM18 254h1v2h-1zM19 256h1v3h-1zM20 259h1v4h-1zM21 263h1v4h-1zM22 267h1v3h-1zM23 270h1v4h-1zM24 274h1v3h-1zM25 277h1v4h-1zM26 281h1v6h-1zM27 287h1v5h-1zM28 292h1v6h-1zM29 298h1v4h-1zM30 302h1v2h-1zM31 304h1v3h-1zM32 307h1v2h-1zM33 309h1v3h-1zM34 312h1v4h-1zM35 316h1v3h-1zM36 319h1v3h-1zM37 322h1v3h-1zM38 325h1v4h-1zM39 329h1v3h-1zM40 332h1v3h-1zM41 335h1v3h-1zM42 338h1v3h-1zM43 341h1v2h-1zM44 343h1v3h-1zM45 346h1v3h-1zM46 349h1v2h-1zM47 351h1v2h-1zM48 353h1v1h-1zM49 354h1v1h-1zM50 355h1v2h-1zM51 357h1v1h-1zM52 358h1v1h-1zM53 359h1v1h-1zM54 360h1v1h-1zM55 359h1v1h-1zM56 358h1v1h-1zM57 357h1v1h-1zM58 356h1v1h-1zM59 355h1v1h-1zM60 354h1v1h-1zM61 353h2v1h-2zM63 352h1v1h-1zM64 351h1v1h-1zM65 350h1v1h-1zM66 349h1v1h-1zM67 348h1v1h-1zM68 347h1v1h-1zM69 346h2v1h-2zM71 347h3v1h-3zM74 348h2v1h-2zM76 347h1v1h-1zM77 346h1v1h-1zM78 344h1v2h-1zM79 343h1v1h-1zM80 342h1v1h-1zM81 341h1v1h-1zM82 340h1v1h-1zM83 341h1v2h-1zM84 343h1v1h-1zM85 344h1v2h-1zM86 346h1v1h-1zM87 347h1v1h-1zM88 348h1v2h-1zM89 350h1v1h-1zM90 349h1v1h-1zM91 348h1v1h-1zM92 347h1v1h-1zM93 346h1v1h-1zM94 345h1v1h-1zM95 344h1v1h-1zM96 343h1v1h-1zM97 342h1v1h-1zM98 341h1v1h-1zM99 340h1v1h-1zM100 339h1v1h-1zM101 338h1v1h-1zM102 337h1v1h-1zM103 335h1v2h-1zM104 331h1v4h-1zM105 328h1v3h-1zM106 325h1v3h-1zM107 322h1v3h-1zM108 318h1v4h-1zM109 314h1v4h-1zM110 309h1v5h-1zM111 305h1v4h-1zM112 301h1v4h-1zM113 297h1v4h-1zM114 294h1v3h-1zM115 290h1v4h-1zM116 287h1v3h-1zM117 284h1v3h-1zM118 281h1v3h-1zM119 279h1v2h-1zM120 277h1v2h-1zM121 275h1v2h-1zM122 273h1v2h-1zM123 271h1v2h-1zM124 269h1v2h-1zM125 268h1v1h-1zM126 267h2v1h-2zM128 266h1v1h-1zM129 265h1v1h-1zM130 264h2v1h-2zM132 263h1v1h-1zM133 262h2v1h-2zM135 261h2v1h-2zM137 260h2v1h-2zM139 259h2v1h-2zM141 258h3v1h-3zM144 257h2v1h-2zM146 256h2v1h-2zM148 255h2v1h-2zM150 254h2v1h-2zM152 253h1v1h-1zM153 252h1v1h-1zM154 251h1v1h-1zM155 249h1v2h-1zM156 248h1v1h-1zM157 247h1v1h-1zM158 246h1v1h-1zM159 245h1v1h-1zM160 244h2v1h-2zM162 243h4v1h-4zM166 242h14v1h-14zM180 241h2v1h-2zM182 240h2v1h-2zM184 239h1v1h-1zM185 238h2v1h-2zM187 237h1v1h-1zM188 236h1v1h-1zM189 235h1v1h-1zM190 234h2v1h-2zM192 233h1v1h-1zM193 232h1v1h-1zM194 230h1v2h-1zM195 229h1v1h-1zM196 227h1v2h-1zM197 225h1v2h-1zM198 222h1v3h-1zM199 219h1v3h-1zM200 216h1v3h-1zM201 213h1v3h-1zM202 209h1v4h-1zM203 206h1v3h-1zM204 202h1v4h-1zM205 198h1v4h-1zM206 194h1v4h-1zM207 190h1v4h-1zM208 187h1v3h-1zM209 183h1v4h-1zM210 180h1v3h-1zM211 176h1v4h-1zM212 172h1v4h-1zM213 168h1v4h-1zM214 164h1v4h-1zM215 161h1v3h-1zM216 159h1v2h-1zM217 156h1v3h-1zM218 154h1v2h-1zM219 152h1v2h-1zM220 150h1v2h-1zM221 148h1v2h-1zM222 146h1v2h-1zM223 145h1v1h-1zM224 143h1v2h-1zM225 141h1v2h-1zM226 140h1v1h-1zM227 139h1v1h-1zM228 137h1v2h-1zM229 136h1v1h-1zM230 135h1v1h-1zM231 133h1v2h-1zM232 132h1v1h-1zM233 131h1v1h-1zM234 130h1v1h-1zM235 128h1v2h-1zM236 127h1v1h-1zM237 126h1v1h-1zM238 127h2v1h-2zM240 128h1v1h-1zM241 129h2v1h-2zM243 130h1v1h-1zM244 131h1v1h-1zM245 132h1v1h-1zM246 133h1v2h-1zM247 135h1v1h-1zM248 136h1v1h-1zM249 137h1v1h-1zM250 138h1v1h-1zM251 137h2v1h-2zM253 136h2v1h-2zM255 135h2v1h-2zM257 133h1v2h-1zM258 131h1v2h-1zM259 129h1v2h-1zM260 127h1v2h-1zM261 125h1v2h-1zM262 123h1v2h-1zM263 122h2v1h-2zM265 121h2v1h-2zM267 120h2v1h-2zM269 119h2v1h-2zM271 118h1v1h-1zM272 116h1v2h-1zM273 115h1v1h-1zM274 113h1v2h-1zM275 112h1v1h-1zM276 111h1v1h-1zM277 109h1v2h-1zM278 108h1v1h-1zM279 107h1v1h-1zM280 106h1v1h-1zM281 104h1v2h-1zM282 103h1v1h-1zM283 102h1v1h-1zM284 101h1v1h-1zM285 100h2v1h-2zM287 101h2v1h-2zM289 102h3v1h-3zM292 103h2v1h-2zM294 104h2v1h-2zM296 105h1v1h-1zM297 106h1v1h-1zM298 107h2v1h-2zM300 108h1v1h-1zM301 109h1v1h-1zM302 110h1v1h-1zM303 111h1v1h-1zM304 112h1v1h-1zM305 113h1v1h-1zM306 114h1v1h-1zM307 115h1v1h-1zM308 116h1v1h-1zM309 117h1v2h-1zM310 119h1v1h-1zM311 120h1v2h-1zM312 122h1v2h-1zM313 124h1v2h-1zM314 126h1v2h-1zM315 128h1v2h-1zM316 130h1v2h-1zM317 132h1v2h-1zM318 134h1v2h-1zM319 136h1v2h-1zM320 138h1v1h-1zM321 139h1v2h-1zM322 141h1v2h-1zM323 143h1v2h-1zM324 145h1v1h-1zM325 146h1v2h-1zM326 148h1v2h-1zM327 150h1v1h-1zM328 151h1v2h-1zM329 153h1v2h-1zM330 155h1v2h-1zM331 157h1v2h-1zM332 159h1v2h-1zM333 161h1v2h-1zM334 163h2v1h-2zM336 164h7v1h-7zM343 163h1v1h-1zM344 162h2v1h-2zM346 161h1v1h-1zM347 160h1v1h-1zM348 159h1v1h-1zM349 158h2v1h-2zM351 157h1v1h-1zM352 156h1v1h-1zM353 155h2v1h-2zM355 153h1v2h-1zM356 151h1v2h-1zM357 149h1v2h-1zM358 147h1v2h-1zM359 145h1v2h-1zM360 143h1v2h-1zM361 141h1v2h-1zM362 138h1v3h-1zM363 136h1v2h-1zM364 133h1v3h-1zM365 131h1v2h-1zM366 129h1v2h-1zM367 127h1v2h-1zM368 125h1v2h-1zM369 123h2v1h-2zM369 124h1v1h-1zM371 122h2v1h-2zM373 121h2v1h-2zM375 120h2v1h-2zM377 119h2v1h-2zM379 118h1v1h-1zM380 117h1v1h-1zM381 116h2v1h-2zM383 115h4v1h-4zM387 114h4v1h-4zM391 115h2v1h-2zM393 116h2v1h-2zM395 117h1v1h-1zM396 118h1v1h-1zM397 119h1v1h-1zM398 120h2v1h-2zM400 121h1v1h-1zM401 122h1v1h-1zM402 123h1v1h-1zM403 124h1v1h-1zM404 125h2v1h-2zM406 126h1v1h-1zM407 127h1v1h-1zM408 128h2v1h-2zM410 129h1v1h-1zM411 130h2v1h-2zM413 131h1v1h-1zM414 132h1v1h-1zM415 133h2v1h-2zM417 134h1v1h-1zM418 135h2v1h-2zM420 136h1v1h-1zM421 137h1v1h-1zM422 138h2v1h-2zM424 139h2v1h-2zM426 140h2v1h-2zM428 141h2v1h-2zM430 142h2v1h-2zM432 143h2v1h-2zM434 144h1v1h-1zM435 145h1v1h-1zM436 146h2v1h-2zM438 147h2v1h-2zM440 148h2v1h-2zM442 149h2v1h-2zM444 150h8v1h-8zM452 149h2v1h-2zM454 148h1v1h-1zM455 147h1v1h-1zM456 146h1v1h-1zM457 144h1v2h-1zM458 143h1v1h-1zM459 142h1v1h-1zM460 141h1v1h-1zM461 140h1v1h-1zM462 139h1v1h-1zM463 138h1v1h-1zM464 137h1v1h-1zM465 136h1v1h-1zM466 135h1v1h-1zM467 134h1v1h-1zM468 132h1v2h-1zM469 131h1v1h-1zM470 130h1v1h-1zM471 128h1v2h-1zM472 127h1v1h-1zM473 126h1v1h-1zM474 124h1v2h-1zM475 123h1v1h-1zM476 122h2v1h-2zM478 121h1v1h-1zM479 120h2v1h-2zM481 119h8v1h-8zM489 120h1v1h-1zM490 121h1v1h-1zM491 122h1v1h-1zM492 123h1v1h-1zM493 124h1v1h-1zM494 125h1v1h-1zM495 126h1v1h-1zM496 127h1v1h-1zM497 128h1v1h-1zM498 129h1v2h-1zM499 131h1v1h-1zM500 132h1v1h-1zM501 133h1v1h-1zM502 134h1v1h-1zM503 135h1v2h-1zM504 137h1v2h-1zM505 139h1v1h-1zM506 140h1v2h-1zM507 142h1v2h-1zM508 144h1v2h-1zM509 146h1v2h-1zM510 148h1v3h-1zM511 151h1v2h-1zM512 153h1v2h-1zM513 155h1v3h-1zM514 158h1v2h-1zM515 160h1v3h-1zM516 163h1v2h-1zM517 165h1v3h-1zM518 168h1v2h-1zM519 170h1v2h-1zM520 172h1v2h-1zM521 174h1v2h-1zM522 176h1v2h-1zM523 178h1v2h-1zM524 180h1v2h-1zM525 182h1v2h-1zM526 184h1v3h-1zM527 187h1v2h-1zM528 189h1v2h-1zM529 191h1v2h-1zM530 193h1v2h-1zM531 195h1v1h-1zM532 196h1v1h-1zM533 197h2v1h-2zM535 198h1v1h-1zM536 199h1v1h-1zM537 200h1v1h-1zM538 201h1v1h-1zM539 202h1v1h-1zM540 203h2v1h-2zM542 204h1v1h-1zM543 205h1v1h-1zM544 206h1v1h-1zM545 205h2v1h-2zM547 204h2v1h-2zM549 203h2v1h-2zM551 202h1v1h-1zM552 203h2v1h-2zM554 204h2v1h-2zM556 205h2v1h-2zM558 206h2v1h-2zM560 205h4v1h-4zM564 204h2v1h-2zM566 205h1v1h-1zM567 206h2v1h-2zM569 207h1v1h-1zM570 208h1v1h-1zM571 209h1v1h-1zM572 210h2v1h-2zM574 211h1v1h-1zM575 212h1v1h-1zM576 213h1v1h-1zM577 214h1v1h-1zM578 215h2v1h-2zM580 216h1v1h-1zM581 217h1v1h-1zM582 218h1v1h-1zM583 219h1v2h-1zM584 221h1v1h-1zM585 222h1v2h-1zM586 224h1v1h-1zM587 225h1v2h-1zM588 227h1v1h-1zM589 228h1v2h-1zM590 230h1v1h-1zM591 231h1v1h-1zM592 232h1v1h-1zM593 233h1v1h-1zM594 234h1v2h-1zM595 236h1v2h-1zM596 238h1v2h-1zM597 240h1v2h-1zM598 242h1v2h-1zM599 244h1v2h-1zM600 246h1v2h-1zM601 248h1v2h-1zM602 250h1v1h-1zM603 251h1v2h-1zM604 253h1v2h-1zM605 255h1v1h-1zM606 256h1v2h-1zM607 258h1v1h-1zM608 259h1v2h-1zM609 261h1v2h-1zM610 263h1v2h-1zM611 265h1v1h-1zM612 266h1v2h-1zM613 268h1v2h-1zM614 270h4v1h-4zM618 271h5v1h-5zM623 270h2v1h-2zM625 269h2v1h-2zM627 268h2v1h-2zM629 267h1v1h-1zM630 266h2v1h-2zM632 265h1v1h-1zM633 264h1v1h-1zM634 263h1v1h-1zM635 262h1v1h-1zM636 261h1v1h-1zM637 260h2v1h-2zM639 259h1v1h-1zM640 258h1v1h-1zM641 257h1v1h-1zM642 256h1v1h-1zM643 254h1v2h-1zM644 253h1v1h-1zM645 251h1v2h-1zM646 250h1v1h-1zM647 248h1v2h-1zM648 247h1v1h-1zM649 245h1v2h-1zM650 244h7v1h-7zM657 245h1v1h-1zM658 246h1v1h-1zM659 247h1v1h-1zM660 248h1v1h-1zM661 249h1v1h-1zM662 250h2v1h-2zM664 251h2v1h-2zM666 252h2v1h-2zM668 253h2v1h-2zM670 254h2v1h-2zM672 255h3v1h-3zM675 256h3v1h-3zM678 257h2v1h-2zM680 258h2v1h-2zM682 259h2v1h-2zM684 260h5v1h-5zM689 259h2v1h-2zM691 258h2v1h-2zM693 257h1v1h-1zM694 255h1v2h-1zM695 254h1v1h-1zM696 253h1v1h-1zM697 251h1v2h-1zM698 247h1v4h-1zM699 241h1v6h-1zM700 235h1v6h-1zM701 228h1v7h-1zM702 222h1v6h-1zM703 218h1v4h-1zM704 214h1v4h-1zM705 209h1v5h-1zM706 205h1v4h-1zM707 201h1v4h-1zM708 196h1v5h-1zM709 190h1v6h-1zM710 184h1v6h-1zM711 178h1v6h-1zM712 172h1v6h-1zM713 166h1v6h-1zM714 160h1v6h-1zM715 155h1v5h-1zM716 149h1v6h-1zM717 143h1v6h-1zM718 137h1v6h-1zM719 131h1v6h-1zM720 125h1v6h-1zM721 120h1v5h-1zM722 114h1v6h-1zM723 109h1v5h-1zM724 103h1v6h-1zM725 98h1v5h-1zM726 93h1v5h-1zM727 87h1v6h-1zM728 82h1v5h-1zM729 77h1v5h-1zM730 72h1v5h-1zM731 68h1v4h-1zM732 64h1v4h-1zM733 62h2v1h-2zM733 63h1v1h-1zM735 61h2v1h-2zM737 60h2v1h-2zM739 59h4v1h-4zM743 58h2v1h-2zM745 57h2v1h-2zM747 56h2v1h-2zM749 55h2v1h-2zM751 54h1v1h-1zM752 53h2v1h-2zM754 52h2v1h-2zM756 53h2v1h-2zM758 54h2v1h-2zM760 55h4v1h-4zM764 56h7v1h-7zM771 55h3v1h-3zM774 54h2v1h-2zM776 53h2v1h-2zM778 52h6v1h-6zM784 53h2v1h-2zM786 54h1v1h-1zM787 55h2v1h-2zM789 56h2v1h-2zM791 57h2v1h-2zM793 58h1v1h-1zM794 59h2v1h-2zM796 60h2v1h-2zM798 61h1v1h-1zM799 62h2v1h-2zM801 63h2v1h-2zM803 64h1v1h-1zM804 65h1v1h-1zM805 66h1v2h-1zM806 68h1v1h-1zM807 69h1v1h-1zM808 70h1v1h-1zM809 71h1v2h-1zM810 73h1v1h-1zM811 74h1v2h-1zM812 76h1v1h-1zM813 77h1v1h-1zM814 78h1v2h-1zM815 80h1v1h-1zM816 81h11v1h-11zM827 80h4v1h-4zM831 79h2v1h-2zM833 78h2v1h-2zM835 77h3v1h-3zM838 76h5v1h-5zM843 77h2v1h-2zM845 78h2v1h-2zM847 79h2v1h-2zM849 80h1v1h-1zM850 81h2v1h-2zM852 82h1v1h-1zM853 83h1v1h-1zM854 84h2v1h-2zM856 85h1v1h-1zM857 86h1v1h-1zM858 87h1v1h-1zM859 88h2v1h-2zM861 89h1v1h-1zM862 90h1v1h-1zM863 91h1v1h-1zM864 92h2v1h-2zM866 93h1v1h-1zM867 94h1v2h-1zM868 96h1v1h-1zM869 97h1v2h-1zM870 99h1v2h-1zM871 101h1v1h-1zM872 102h1v2h-1zM873 104h1v1h-1zM874 105h1v1h-1zM875 106h2v1h-2zM877 107h1v1h-1zM878 108h10v1h-10zM888 109h2v1h-2zM890 110h2v1h-2zM892 111h2v1h-2zM894 112h2v1h-2zM896 113h2v1h-2zM898 114h2v1h-2zM900 115h5v1h-5zM905 114h5v1h-5zM910 115h4v1h-4zM914 116h10v1h-10zM924 115h3v1h-3zM927 114h16v1h-16zM943 115h3v1h-3zM946 116h1v1h-1zM947 117h1v1h-1zM948 118h1v1h-1zM949 119h1v1h-1zM950 120h1v1h-1zM951 121h1v1h-1zM952 122h1v1h-1zM953 123h2v1h-2zM955 124h1v1h-1zM956 125h1v1h-1zM957 126h1v1h-1zM958 127h2v1h-2zM960 128h2v1h-2zM962 129h2v1h-2zM964 130h1v1h-1zM965 131h2v1h-2zM967 132h2v1h-2zM969 133h2v1h-2zM971 134h9v1h-9zM980 133h4v1h-4zM984 132h2v1h-2zM986 131h2v1h-2zM988 130h2v1h-2zM990 129h2v1h-2zM992 128h1v1h-1zM993 127h1v1h-1zM994 126h1v1h-1zM995 124h1v2h-1zM996 123h1v1h-1zM997 122h1v1h-1zM998 121h1v1h-1zM999 120h1v1h-1zM1000 118h1v2h-1zM1001 117h1v1h-1zM1002 115h1v2h-1zM1003 114h1v1h-1zM1004 113h1v1h-1zM1005 111h1v2h-1zM1006 110h1v1h-1zM1007 109h1v1h-1zM1008 108h1v1h-1zM1009 106h1v2h-1zM1010 105h1v1h-1zM1011 104h1v1h-1zM1012 103h1v1h-1zM1013 102h1v1h-1zM1014 101h2v1h-2zM1016 100h2v1h-2zM1018 99h2v1h-2zM1020 98h5v1h-5zM1025 97h12v1h-12zM1037 98h2v1h-2zM1039 99h2v1h-2zM1041 100h2v1h-2zM1043 101h3v1h-3zM1046 102h6v1h-6zM1052 103h12v1h-12zM1064 104h2v1h-2zM1066 105h2v1h-2zM1068 106h1v1h-1zM1069 107h2v1h-2zM1071 108h1v1h-1zM1072 109h2v1h-2zM1074 110h1v1h-1zM1075 111h1v1h-1zM1076 112h1v1h-1zM1077 113h2v1h-2zM1079 114h1v1h-1zM1080 115h1v1h-1zM1081 116h1v1h-1zM1082 117h1v1h-1zM1083 118h1v1h-1zM1084 119h1v1h-1zM1085 120h1v2h-1zM1086 122h1v1h-1zM1087 123h1v1h-1zM1088 124h1v1h-1zM1089 125h1v1h-1zM1090 126h1v1h-1z"/>
<path fill="#ff0000" d="M5 184h1v2h-1zM6 186h1v2h-1zM7 188h1v2h-1zM8 190h1v3h-1zM9 193h1v2h-1zM10 195h1v2h-1zM11 197h1v3h-1zM12 200h1v2h-1zM13 202h1v2h-1zM14 204h1v2h-1zM15 206h1v2h-1zM16 208h1v2h-1zM17 210h1v2h-1zM18 212h1v2h-1zM19 214h1v3h-1zM20 217h1v2h-1zM21 219h1v3h-1zM22 222h1v3h-1zM23 225h1v3h-1zM24 228h1v3h-1zM25 231h1v3h-1zM26 234h1v3h-1zM27 237h1v3h-1zM28 240h1v3h-1zM29 243h1v3h-1zM30 246h1v3h-1zM31 249h1v3h-1zM32 252h1v3h-1zM33 255h1v3h-1zM34 258h1v3h-1zM35 261h1v3h-1zM36 264h1v2h-1zM37 266h1v3h-1zM38 269h1v3h-1zM39 272h1v3h-1zM40 275h1v3h-1zM41 278h1v3h-1zM42 281h1v3h-1zM43 284h1v4h-1zM44 288h1v3h-1zM45 291h1v3h-1zM46 294h1v3h-1zM47 297h1v2h-1zM48 299h1v2h-1zM49 301h1v2h-1zM50 303h1v2h-1zM51 305h1v2h-1zM52 307h1v1h-1zM53 308h1v2h-1zM54 310h1v2h-1zM55 312h1v2h-1zM56 314h1v2h-1zM57 316h1v2h-1zM58 318h1v2h-1zM59 320h1v2h-1zM60 322h1v1h-1zM61 323h1v1h-1zM62 324h1v1h-1zM63 325h1v1h-1zM64 326h1v1h-1zM65 327h1v1h-1zM66 328h2v1h-2zM68 329h1v1h-1zM69 330h1v1h-1zM70 331h1v2h-1zM71 333h1v2h-1zM72 335h1v1h-1zM73 336h1v2h-1zM74 338h1v2h-1zM75 340h1v1h-1zM76 341h1v1h-1zM77 342h1v1h-1zM78 343h1v2h-1zM79 345h1v1h-1zM80 346h1v1h-1zM81 347h1v1h-1zM82 348h1v1h-1zM83 349h1v1h-1zM84 350h1v1h-1zM85 351h2v1h-2zM87 352h1v1h-1zM88 353h1v1h-1zM89 354h1v1h-1zM90 353h2v1h-2zM92 352h1v1h-1zM93 351h2v1h-2zM95 350h1v1h-1zM96 349h2v1h-2zM98 348h1v1h-1zM99 347h1v1h-1zM100 346h1v1h-1zM101 345h1v1h-1zM102 344h1v1h-1zM103 343h1v1h-1zM104 341h1v2h-1zM105 339h1v2h-1zM106 337h1v2h-1zM107 335h1v2h-1zM108 333h1v2h-1zM109 331h1v2h-1zM110 329h1v2h-1zM111 326h1v3h-1zM112 324h1v2h-1zM113 322h1v2h-1zM114 319h1v3h-1zM115 317h1v2h-1zM116 315h1v2h-1zM117 313h1v2h-1zM118 312h1v1h-1zM119 311h2v1h-2zM121 310h1v1h-1zM122 309h2v1h-2zM124 308h1v1h-1zM125 307h2v1h-2zM127 306h1v1h-1zM128 305h2v1h-2zM130 304h1v1h-1zM131 303h1v1h-1zM132 302h2v1h-2zM134 301h1v1h-1zM135 300h1v1h-1zM136 299h2v1h-2zM138 298h1v1h-1zM139 296h1v2h-1zM140 294h1v2h-1zM141 292h1v2h-1zM142 291h1v1h-1zM143 289h1v2h-1zM144 287h1v2h-1zM145 285h1v2h-1zM146 283h1v2h-1zM147 281h1v2h-1zM148 278h1v3h-1zM149 276h1v2h-1zM150 274h1v2h-1zM151 272h1v2h-1zM152 269h1v3h-1zM153 267h1v2h-1zM154 265h1v2h-1zM155 263h1v2h-1zM156 261h1v2h-1zM157 259h1v2h-1zM158 257h1v2h-1zM159 256h1v1h-1zM160 255h2v1h-2zM162 254h1v1h-1zM163 253h2v1h-2zM165 252h3v1h-3zM168 251h5v1h-5zM173 250h3v1h-3zM176 249h2v1h-2zM178 248h2v1h-2zM180 247h2v1h-2zM182 246h2v1h-2zM184 245h2v1h-2zM186 244h2v1h-2zM188 243h2v1h-2zM190 242h1v1h-1zM191 241h1v1h-1zM192 240h1v1h-1zM193 239h1v1h-1zM194 238h1v1h-1zM195 237h1v1h-1zM196 235h1v2h-1zM197 233h1v2h-1zM198 231h1v2h-1zM199 229h1v2h-1zM200 227h1v2h-1zM201 226h1v1h-1zM202 224h1v2h-1zM203 223h1v1h-1zM204 221h1v2h-1zM205 220h1v1h-1zM206 218h1v2h-1zM207 217h1v1h-1zM208 216h1v1h-1zM209 214h1v2h-1zM210 213h1v1h-1zM211 211h1v2h-1zM212 210h1v1h-1zM213 208h1v2h-1zM214 206h1v2h-1zM215 205h1v1h-1zM216 203h1v2h-1zM217 202h1v1h-1zM218 200h1v2h-1zM219 198h1v2h-1zM220 197h1v1h-1zM221 195h1v2h-1zM222 194h1v1h-1zM223 192h1v2h-1zM224 191h1v1h-1zM225 190h1v1h-1zM226 188h1v2h-1zM227 187h1v1h-1zM228 186h1v1h-1zM229 184h1v2h-1zM230 183h1v1h-1zM231 181h1v2h-1zM232 179h1v2h-1zM233 177h1v2h-1zM234 175h1v2h-1zM235 173h1v2h-1zM236 171h1v2h-1zM237 169h1v2h-1zM238 167h1v2h-1zM239 164h1v3h-1zM240 162h1v2h-1zM241 160h1v2h-1zM242 158h1v2h-1zM243 156h1v2h-1zM244 155h1v1h-1zM245 154h1v1h-1zM246 152h1v2h-1zM247 151h1v1h-1zM248 150h1v1h-1zM249 149h1v1h-1zM250 148h1v1h-1zM251 147h1v1h-1zM252 146h1v1h-1zM253 145h1v1h-1zM254 144h1v1h-1zM255 142h1v2h-1zM256 140h1v2h-1zM257 138h1v2h-1zM258 136h1v2h-1zM259 134h1v2h-1zM260 133h1v1h-1zM261 132h1v1h-1zM262 131h1v1h-1zM263 130h1v1h-1zM264 129h1v1h-1zM265 128h2v1h-2zM267 127h1v1h-1zM268 126h2v1h-2zM270 125h1v1h-1zM271 124h2v1h-2zM273 123h2v1h-2zM275 122h1v1h-1zM276 121h2v1h-2zM278 120h4v1h-4zM282 119h6v1h-6zM288 118h4v1h-4zM292 117h3v1h-3zM295 116h3v1h-3zM298 115h5v1h-5zM303 116h5v1h-5zM308 117h4v1h-4zM312 118h5v1h-5zM317 119h4v1h-4zM321 120h1v1h-1zM322 121h1v1h-1zM323 122h1v1h-1zM324 123h1v1h-1zM325 124h1v1h-1zM326 125h1v1h-1zM327 126h1v1h-1zM328 127h1v1h-1zM329 128h1v1h-1zM330 129h1v2h-1zM331 131h1v1h-1zM332 132h1v1h-1zM333 133h1v1h-1zM334 134h1v1h-1zM335 135h2v1h-2zM337 136h1v1h-1zM338 137h1v1h-1zM339 138h2v1h-2zM341 139h2v1h-2zM343 140h2v1h-2zM345 141h2v1h-2zM347 142h3v1h-3zM350 143h2v1h-2zM352 144h2v1h-2zM354 145h2v1h-2zM356 146h4v1h-4zM360 145h6v1h-6zM366 144h5v1h-5zM371 143h4v1h-4zM375 142h3v1h-3zM378 141h2v1h-2zM380 140h1v1h-1zM381 139h2v1h-2zM383 138h2v1h-2zM385 137h2v1h-2zM387 136h1v1h-1zM388 135h2v1h-2zM390 134h2v1h-2zM392 133h1v1h-1zM393 132h1v1h-1zM394 131h1v1h-1zM395 130h1v1h-1zM396 129h1v1h-1zM397 128h1v1h-1zM398 127h2v1h-2zM400 126h1v1h-1zM401 125h1v1h-1zM402 124h2v1h-2zM404 123h4v1h-4zM408 124h8v1h-8zM416 125h8v1h-8zM424 126h5v1h-5zM429 127h2v1h-2zM431 128h2v1h-2zM433 129h1v1h-1zM434 130h1v1h-1zM435 131h1v1h-1zM436 132h1v1h-1zM437 133h1v1h-1zM438 134h1v1h-1zM439 135h2v1h-2zM441 136h1v1h-1zM442 137h1v1h-1zM443 138h2v1h-2zM445 139h4v1h-4zM449 140h10v1h-10zM459 139h3v1h-3zM462 138h3v1h-3zM465 137h4v1h-4zM469 136h5v1h-5zM474 135h7v1h-7zM481 134h12v1h-12zM493 135h4v1h-4zM497 136h3v1h-3zM500 137h4v1h-4zM504 138h3v1h-3zM507 139h3v1h-3zM510 140h2v1h-2zM512 141h2v1h-2zM514 142h1v1h-1zM515 143h2v1h-2zM517 144h1v1h-1zM518 145h1v1h-1zM519 146h1v1h-1zM520 147h1v2h-1zM521 149h1v1h-1zM522 150h1v1h-1zM523 151h1v1h-1zM524 152h1v1h-1zM525 153h1v2h-1zM526 155h1v1h-1zM527 156h1v2h-1zM528 158h1v1h-1zM529 159h1v1h-1zM530 160h1v2h-1zM531 162h1v1h-1zM532 163h1v1h-1zM533 164h1v1h-1zM534 165h1v1h-1zM535 166h1v1h-1zM536 167h1v1h-1zM537 168h1v1h-1zM538 169h1v1h-1zM539 170h1v1h-1zM540 171h1v2h-1zM541 173h1v1h-1zM542 174h1v1h-1zM543 175h1v1h-1zM544 176h1v1h-1zM545 177h1v1h-1zM546 178h1v1h-1zM547 179h1v2h-1zM548 181h1v1h-1zM549 182h1v1h-1zM550 183h1v1h-1zM551 184h1v1h-1zM552 185h1v1h-1zM553 186h1v1h-1zM554 187h1v2h-1zM555 189h1v1h-1zM556 190h1v1h-1zM557 191h1v1h-1zM558 192h1v1h-1zM559 193h1v1h-1zM560 194h1v1h-1zM561 195h1v2h-1zM562 197h1v1h-1zM563 198h1v1h-1zM564 199h1v1h-1zM565 200h1v1h-1zM566 201h1v1h-1zM567 202h1v1h-1zM568 203h2v1h-2zM570 204h1v1h-1zM571 205h1v1h-1zM572 206h1v1h-1zM573 207h1v1h-1zM574 208h1v1h-1zM575 209h2v1h-2zM577 210h1v1h-1zM578 211h1v1h-1zM579 212h2v1h-2zM581 213h2v1h-2zM583 214h2v1h-2zM585 215h2v1h-2zM587 216h2v1h-2zM589 217h1v1h-1zM590 218h1v1h-1zM591 219h2v1h-2zM593 220h1v1h-1zM594 221h2v1h-2zM596 222h2v1h-2zM598 223h2v1h-2zM600 224h1v1h-1zM601 225h1v2h-1zM602 227h1v1h-1zM603 228h1v2h-1zM604 230h1v1h-1zM605 231h1v1h-1zM606 232h1v2h-1zM607 234h1v1h-1zM608 235h1v1h-1zM609 236h1v1h-1zM610 237h1v2h-1zM611 239h1v1h-1zM612 240h1v1h-1zM613 241h1v1h-1zM614 242h1v1h-1zM615 243h1v1h-1zM616 244h2v1h-2zM618 245h1v1h-1zM619 246h1v1h-1zM620 247h2v1h-2zM622 248h2v1h-2zM624 249h2v1h-2zM626 250h3v1h-3zM629 251h2v1h-2zM631 252h2v1h-2zM633 253h3v1h-3zM636 254h2v1h-2zM638 255h2v1h-2zM640 256h10v1h-10zM650 257h4v1h-4zM654 258h3v1h-3zM657 259h4v1h-4zM661 260h5v1h-5zM666 259h5v1h-5zM671 258h2v1h-2zM673 257h2v1h-2zM675 256h2v1h-2zM677 255h2v1h-2zM679 254h2v1h-2zM681 253h2v1h-2zM683 252h2v1h-2zM685 251h2v1h-2zM687 250h9v1h-9zM696 249h3v1h-3zM699 248h2v1h-2zM700 247h1v1h-1zM701 244h1v3h-1zM702 242h1v2h-1zM703 239h1v3h-1zM704 236h1v3h-1zM705 233h1v3h-1zM706 230h1v3h-1zM707 227h1v3h-1zM708 225h1v2h-1zM709 222h1v3h-1zM710 220h1v2h-1zM711 218h1v2h-1zM712 215h1v3h-1zM713 213h1v2h-1zM714 211h1v2h-1zM715 209h1v2h-1zM716 207h1v2h-1zM717 205h1v2h-1zM718 202h1v3h-1zM719 199h1v3h-1zM720 196h1v3h-1zM721 193h1v3h-1zM722 190h1v3h-1zM723 187h1v3h-1zM724 184h1v3h-1zM725 181h1v3h-1zM726 178h1v3h-1zM727 176h1v2h-1zM728 173h1v3h-1zM729 170h1v3h-1zM730 168h1v2h-1zM731 164h1v4h-1zM732 160h1v4h-1zM733 156h1v4h-1zM734 152h1v4h-1zM735 149h1v3h-1zM736 145h1v4h-1zM737 142h1v3h-1zM738 139h1v3h-1zM739 136h1v3h-1zM740 133h1v3h-1zM741 130h1v3h-1zM742 127h1v3h-1zM743 124h1v3h-1zM744 121h1v3h-1zM745 118h1v3h-1zM746 116h1v2h-1zM747 113h1v3h-1zM748 110h1v3h-1zM749 107h1v3h-1zM750 105h1v2h-1zM751 102h1v3h-1zM752 99h1v3h-1zM753 96h1v3h-1zM754 93h1v3h-1zM755 90h1v3h-1zM756 87h1v3h-1zM757 85h1v2h-1zM758 83h1v2h-1zM759 81h1v2h-1zM760 79h1v2h-1zM761 77h1v2h-1zM762 74h1v3h-1zM763 70h1v4h-1zM764 66h1v4h-1zM765 64h1v2h-1zM766 63h1v1h-1zM767 61h1v2h-1zM768 60h1v1h-1zM769 59h1v1h-1zM770 58h2v1h-2zM772 57h2v1h-2zM774 56h2v1h-2zM776 55h4v1h-4zM780 54h9v1h-9zM789 55h2v1h-2zM791 56h2v1h-2zM793 57h2v1h-2zM795 58h3v1h-3zM798 59h4v1h-4zM802 60h3v1h-3zM805 61h2v1h-2zM807 62h2v1h-2zM809 63h3v1h-3zM812 64h2v1h-2zM814 65h2v1h-2zM816 66h3v1h-3zM819 67h4v1h-4zM823 68h3v1h-3zM826 69h4v1h-4zM830 70h9v1h-9zM839 71h1v1h-1zM840 72h1v1h-1zM841 73h1v1h-1zM842 74h1v1h-1zM843 75h1v1h-1zM844 76h1v1h-1zM845 77h1v1h-1zM846 78h1v1h-1zM847 79h2v1h-2zM849 80h1v1h-1zM850 81h2v1h-2zM852 82h2v1h-2zM854 83h4v1h-4zM858 84h2v1h-2zM860 85h2v1h-2zM862 86h2v1h-2zM864 87h2v1h-2zM866 88h2v1h-2zM868 89h4v1h-4zM872 90h3v1h-3zM875 91h2v1h-2zM877 92h2v1h-2zM879 93h3v1h-3zM882 94h2v1h-2zM884 95h2v1h-2zM886 96h2v1h-2zM888 97h2v1h-2zM890 98h2v1h-2zM892 99h2v1h-2zM894 100h1v1h-1zM895 101h2v1h-2zM897 102h1v1h-1zM898 103h1v1h-1zM899 104h2v1h-2zM901 105h1v1h-1zM902 106h2v1h-2zM904 107h1v1h-1zM905 108h1v1h-1zM906 109h2v1h-2zM908 110h3v1h-3zM911 111h4v1h-4zM915 112h5v1h-5zM920 113h14v1h-14zM934 112h5v1h-5zM939 113h4v1h-4zM943 114h2v1h-2zM945 115h2v1h-2zM947 116h2v1h-2zM949 117h2v1h-2zM951 118h2v1h-2zM953 119h4v1h-4zM957 120h3v1h-3zM960 121h4v1h-4zM964 122h5v1h-5zM969 123h7v1h-7zM976 124h5v1h-5zM981 125h4v1h-4zM985 126h5v1h-5zM990 125h6v1h-6zM996 124h4v1h-4zM1000 123h4v1h-4zM1004 122h2v1h-2zM1006 121h2v1h-2zM1008 120h2v1h-2zM1010 119h2v1h-2zM1012 118h1v1h-1zM1013 117h2v1h-2zM1015 116h2v1h-2zM1017 115h2v1h-2zM1019 114h2v1h-2zM1021 113h3v1h-3zM1024 112h2v1h-2zM1026 111h2v1h-2zM1028 110h2v1h-2zM1030 109h2v1h-2zM1032 108h2v1h-2zM1034 107h3v1h-3zM1037 106h4v1h-4zM1041 105h3v1h-3zM1044 104h4v1h-4zM1048 103h5v1h-5zM1053 102h6v1h-6zM1059 101h14v1h-14zM1073 102h2v1h-2zM1075 103h1v1h-1zM1076 104h1v1h-1zM1077 105h1v1h-1zM1078 106h2v1h-2zM1080 107h1v1h-1zM1081 108h1v1h-1zM1082 109h1v1h-1zM1083 110h2v1h-2zM1085 111h1v1h-1zM1086 112h1v1h-1zM1087 113h2v1h-2zM1089 114h1v1h-1zM1090 115h1v1h-1z"/>
<path fill="#ff00ff" d="M5 154h1v1h-1zM6 155h1v2h-1zM7 157h1v1h-1zM8 158h1v1h-1zM9 159h1v2h-1zM10 161h1v1h-1zM11 162h1v2h-1zM12 164h1v1h-1zM13 165h1v1h-1zM14 166h1v2h-1zM15 168h1v1h-1zM16 169h1v2h-1zM17 171h1v2h-1zM18 173h1v1h-1zM19 174h1v2h-1zM20 176h1v1h-1zM21 177h1v2h-1zM22 179h1v2h-1zM23 181h1v1h-1zM24 182h1v2h-1zM25 184h1v2h-1zM26 186h1v2h-1zM27 188h1v2h-1zM28 190h1v2h-1zM29 192h1v2h-1zM30 194h1v2h-1zM31 196h1v2h-1zM32 198h1v1h-1zM33 199h1v2h-1zM34 201h1v2h-1zM35 203h1v2h-1zM36 205h1v1h-1zM37 206h1v2h-1zM38 208h1v2h-1zM39 210h1v2h-1zM40 212h1v2h-1zM41 214h1v2h-1zM42 216h1v2h-1zM43 218h1v2h-1zM44 220h1v2h-1zM45 222h1v2h-1zM46 224h1v1h-1zM47 225h1v2h-1zM48 227h1v1h-1zM49 228h1v1h-1zM50 229h1v2h-1zM51 231h1v1h-1zM52 232h1v1h-1zM53 233h1v2h-1zM54 235h1v1h-1zM55 236h1v1h-1zM56 237h1v1h-1zM57 238h1v1h-1zM58 239h1v1h-1zM59 240h1v1h-1zM60 241h1v1h-1zM61 242h1v1h-1zM62 243h1v1h-1zM63 244h1v1h-1zM64 245h1v1h-1zM65 246h1v1h-1zM66 247h1v1h-1zM67 248h1v1h-1zM68 249h1v1h-1zM69 250h1v2h-1zM70 252h1v2h-1zM71 254h1v2h-1zM72 256h1v2h-1zM73 258h1v2h-1zM74 260h1v2h-1zM75 262h1v1h-1zM76 263h1v2h-1zM77 265h1v2h-1zM78 267h1v1h-1zM79 268h1v2h-1zM80 270h1v1h-1zM81 271h1v2h-1zM82 273h1v2h-1zM83 275h1v1h-1zM84 276h1v2h-1zM85 278h1v1h-1zM86 279h1v1h-1zM87 280h1v2h-1zM88 282h1v1h-1zM89 283h1v1h-1zM90 284h1v1h-1zM91 285h1v2h-1zM92 287h1v1h-1zM93 288h1v1h-1zM94 289h1v1h-1zM95 290h1v1h-1zM96 291h1v2h-1zM97 293h1v1h-1zM98 294h1v1h-1zM99 295h1v1h-1zM100 296h1v1h-1zM101 297h2v1h-2zM103 298h1v1h-1zM104 299h1v1h-1zM105 300h1v1h-1zM106 301h2v1h-2zM108 302h2v1h-2zM110 303h1v1h-1zM111 304h2v1h-2zM113 305h2v1h-2zM115 306h2v1h-2zM117 307h3v1h-3zM120 308h4v1h-4zM124 309h3v1h-3zM127 310h3v1h-3zM130 311h2v1h-2zM132 312h3v1h-3zM135 313h2v1h-2zM137 314h3v1h-3zM140 313h3v1h-3zM143 312h2v1h-2zM145 311h2v1h-2zM147 310h2v1h-2zM149 309h1v1h-1zM150 308h2v1h-2zM152 307h1v1h-1zM153 306h2v1h-2zM155 305h2v1h-2zM157 304h1v1h-1zM158 303h2v1h-2zM160 302h2v1h-2zM162 301h2v1h-2zM164 300h2v1h-2zM166 299h2v1h-2zM168 298h2v1h-2zM170 297h2v1h-2zM172 296h1v1h-1zM173 295h1v1h-1zM174 294h1v1h-1zM175 293h1v1h-1zM176 292h1v1h-1zM177 291h2v1h-2zM179 290h1v1h-1zM180 289h1v1h-1zM181 288h1v1h-1zM182 287h1v1h-1zM183 286h1v1h-1zM184 284h1v2h-1zM185 283h1v1h-1zM186 281h1v2h-1zM187 280h1v1h-1zM188 279h1v1h-1zM189 277h1v2h-1zM190 276h1v1h-1zM191 275h1v1h-1zM192 274h1v1h-1zM193 272h1v2h-1zM194 271h1v1h-1zM195 270h1v1h-1zM196 269h1v1h-1zM197 268h1v1h-1zM198 267h1v1h-1zM199 265h1v2h-1zM200 264h1v1h-1zM201 263h1v1h-1zM202 262h1v1h-1zM203 260h1v2h-1zM204 259h1v1h-1zM205 257h1v2h-1zM206 256h1v1h-1zM207 255h1v1h-1zM208 253h1v2h-1zM209 252h1v1h-1zM210 250h1v2h-1zM211 248h1v2h-1zM212 246h1v2h-1zM213 245h1v1h-1zM214 243h1v2h-1zM215 241h1v2h-1zM216 240h1v1h-1zM217 238h1v2h-1zM218 237h1v1h-1zM219 235h1v2h-1zM220 234h1v1h-1zM221 232h1v2h-1zM222 231h1v1h-1zM223 230h1v1h-1zM224 228h1v2h-1zM225 227h1v1h-1zM226 225h1v2h-1zM227 223h1v2h-1zM228 220h1v3h-1zM229 218h1v2h-1zM230 216h1v2h-1zM231 214h1v2h-1zM232 213h1v1h-1zM233 212h1v1h-1zM234 211h1v1h-1zM235 210h1v1h-1zM236 209h2v1h-2zM238 208h1v1h-1zM239 207h1v1h-1zM240 206h1v1h-1zM241 205h1v1h-1zM242 204h1v1h-1zM243 203h1v1h-1zM244 202h2v1h-2zM246 201h1v1h-1zM247 200h1v1h-1zM248 199h1v1h-1zM249 198h1v1h-1zM250 197h2v1h-2zM252 196h1v1h-1zM253 195h1v1h-1zM254 194h1v1h-1zM255 193h1v1h-1zM256 192h1v1h-1zM257 191h1v1h-1zM258 190h1v1h-1zM259 188h1v2h-1zM260 187h1v1h-1zM261 186h1v1h-1zM262 185h1v1h-1zM263 184h1v1h-1zM264 183h1v1h-1zM265 182h1v1h-1zM266 181h1v1h-1zM267 179h1v2h-1zM268 178h1v1h-1zM269 177h1v1h-1zM270 175h1v2h-1zM271 174h1v1h-1zM272 173h1v1h-1zM273 172h1v1h-1zM274 170h1v2h-1zM275 169h1v1h-1zM276 168h1v1h-1zM277 167h1v1h-1zM278 166h1v1h-1zM279 165h1v1h-1zM280 164h1v1h-1zM281 163h2v1h-2zM283 162h1v1h-1zM284 161h1v1h-1zM285 160h1v1h-1zM286 159h1v1h-1zM287 158h1v1h-1zM288 157h2v1h-2zM290 156h1v1h-1zM291 155h1v1h-1zM292 154h2v1h-2zM294 153h1v1h-1zM295 152h1v1h-1zM296 151h2v1h-2zM298 150h1v1h-1zM299 149h1v1h-1zM300 148h1v1h-1zM301 147h2v1h-2zM303 146h1v1h-1zM304 145h1v1h-1zM305 144h1v1h-1zM306 143h1v1h-1zM307 142h2v1h-2zM309 141h1v1h-1zM310 140h2v1h-2zM312 139h2v1h-2zM314 138h2v1h-2zM316 137h2v1h-2zM318 136h4v1h-4zM322 135h4v1h-4zM326 134h4v1h-4zM330 133h7v1h-7zM337 132h22v1h-22zM359 131h5v1h-5zM364 130h15v1h-15zM379 129h4v1h-4zM383 128h4v1h-4zM387 127h11v1h-11zM398 128h4v1h-4zM402 129h4v1h-4zM406 130h3v1h-3zM409 131h3v1h-3zM412 132h5v1h-5zM417 133h4v1h-4zM421 134h3v1h-3zM424 135h3v1h-3zM427 136h3v1h-3zM430 137h3v1h-3zM433 138h4v1h-4zM437 139h3v1h-3zM440 140h4v1h-4zM444 141h5v1h-5zM449 140h5v1h-5zM454 139h3v1h-3zM457 138h2v1h-2zM459 137h2v1h-2zM461 136h1v1h-1zM462 135h2v1h-2zM464 134h2v1h-2zM466 133h2v1h-2zM468 132h2v1h-2zM470 131h3v1h-3zM473 130h4v1h-4zM477 129h16v1h-16zM493 130h4v1h-4zM497 131h3v1h-3zM500 132h2v1h-2zM502 133h3v1h-3zM505 134h2v1h-2zM507 135h2v1h-2zM509 136h2v1h-2zM511 137h1v1h-1zM512 138h2v1h-2zM514 139h1v1h-1zM515 140h1v1h-1zM516 141h2v1h-2zM518 142h1v1h-1zM519 143h1v1h-1zM520 144h1v1h-1zM521 145h2v1h-2zM523 146h2v1h-2zM525 147h1v1h-1zM526 148h2v1h-2zM528 149h2v1h-2zM530 150h2v1h-2zM532 151h2v1h-2zM534 152h2v1h-2zM536 153h2v1h-2zM538 154h2v1h-2zM540 155h2v1h-2zM542 156h2v1h-2zM544 157h2v1h-2zM546 158h2v1h-2zM548 159h2v1h-2zM550 160h2v1h-2zM552 161h2v1h-2zM554 162h2v1h-2zM556 163h2v1h-2zM558 164h3v1h-3zM561 165h2v1h-2zM563 166h2v1h-2zM565 167h3v1h-3zM568 168h2v1h-2zM570 169h2v1h-2zM572 170h2v1h-2zM574 171h2v1h-2zM576 172h2v1h-2zM578 173h2v1h-2zM580 174h1v1h-1zM581 175h2v1h-2zM583 176h2v1h-2zM585 177h2v1h-2zM587 178h1v1h-1zM588 179h1v1h-1zM589 180h1v1h-1zM590 181h1v2h-1zM591 183h1v1h-1zM592 184h1v1h-1zM593 185h1v1h-1zM594 186h1v1h-1zM595 187h1v1h-1zM596 188h1v1h-1zM597 189h1v2h-1zM598 191h1v1h-1zM599 192h1v1h-1zM600 193h1v1h-1zM601 194h1v1h-1zM602 195h1v1h-1zM603 196h1v1h-1zM604 197h1v2h-1zM605 199h1v1h-1zM606 200h1v1h-1zM607 201h1v1h-1zM608 202h1v1h-1zM609 203h1v1h-1zM610 204h1v1h-1zM611 205h1v2h-1zM612 207h1v1h-1zM613 208h1v1h-1zM614 209h1v1h-1zM615 210h1v1h-1zM616 211h1v1h-1zM617 212h1v1h-1zM618 213h1v2h-1zM619 215h1v1h-1zM620 216h1v1h-1zM621 217h1v1h-1zM622 218h1v1h-1zM623 219h1v1h-1zM624 220h1v1h-1zM625 221h2v1h-2zM627 222h1v1h-1zM628 223h1v1h-1zM629 224h1v1h-1zM630 225h2v1h-2zM632 226h1v1h-1zM633 227h1v1h-1zM634 228h2v1h-2zM636 229h1v1h-1zM637 230h2v1h-2zM639 231h2v1h-2zM641 232h2v1h-2zM643 233h2v1h-2zM645 234h4v1h-4zM649 235h5v1h-5zM654 236h4v1h-4zM658 237h2v1h-2zM660 238h2v1h-2zM662 239h3v1h-3zM665 240h2v1h-2zM667 241h2v1h-2zM669 242h3v1h-3zM672 243h4v1h-4zM676 244h2v1h-2zM678 245h2v1h-2zM680 246h2v1h-2zM682 247h2v1h-2zM684 248h2v1h-2zM686 249h4v1h-4zM690 250h9v1h-9zM699 249h2v1h-2zM701 248h2v1h-2zM703 247h1v1h-1zM704 246h1v1h-1zM705 244h1v2h-1zM706 243h1v1h-1zM707 242h1v1h-1zM708 241h1v1h-1zM709 240h1v1h-1zM710 239h1v1h-1zM711 237h1v2h-1zM712 236h1v1h-1zM713 235h1v1h-1zM714 234h1v1h-1zM715 232h1v2h-1zM716 231h1v1h-1zM717 230h1v1h-1zM718 228h1v2h-1zM719 227h1v1h-1zM720 225h1v2h-1zM721 224h1v1h-1zM722 222h1v2h-1zM723 221h1v1h-1zM724 219h1v2h-1zM725 218h1v1h-1zM726 217h1v1h-1zM727 215h1v2h-1zM728 214h1v1h-1zM729 212h1v2h-1zM730 211h1v1h-1zM731 209h1v2h-1zM732 208h1v1h-1zM733 206h1v2h-1zM734 205h1v1h-1zM735 204h1v1h-1zM736 202h1v2h-1zM737 201h1v1h-1zM738 199h1v2h-1zM739 198h1v1h-1zM740 196h1v2h-1zM741 194h1v2h-1zM742 193h1v1h-1zM743 191h1v2h-1zM744 189h1v2h-1zM745 188h1v1h-1zM746 186h1v2h-1zM747 184h1v2h-1zM748 183h1v1h-1zM749 181h1v2h-1zM750 179h1v2h-1zM751 178h1v1h-1zM752 176h1v2h-1zM753 174h1v2h-1zM754 172h1v2h-1zM755 171h1v1h-1zM756 169h1v2h-1zM757 167h1v2h-1zM758 165h1v2h-1zM759 164h1v1h-1zM760 162h1v2h-1zM761 160h1v2h-1zM762 158h1v2h-1zM763 156h1v2h-1zM764 155h1v1h-1zM765 153h1v2h-1zM766 151h1v2h-1zM767 149h1v2h-1zM768 148h1v1h-1zM769 147h1v1h-1zM770 145h1v2h-1zM771 144h1v1h-1zM772 143h1v1h-1zM773 141h1v2h-1zM774 140h1v1h-1zM775 139h1v1h-1zM776 137h1v2h-1zM777 136h1v1h-1zM778 135h1v1h-1zM779 134h1v1h-1zM780 132h1v2h-1zM781 131h1v1h-1zM782 130h1v1h-1zM783 128h1v2h-1zM784 127h1v1h-1zM785 126h1v1h-1zM786 125h1v1h-1zM787 124h1v1h-1zM788 123h1v1h-1zM789 122h1v1h-1zM790 121h1v1h-1zM791 120h1v1h-1zM792 118h1v2h-1zM793 117h1v1h-1zM794 116h1v1h-1zM795 115h1v1h-1zM796 114h1v1h-1zM797 113h1v1h-1zM798 112h1v1h-1zM799 111h1v1h-1zM800 110h1v1h-1zM801 109h1v1h-1zM802 107h1v2h-1zM803 106h1v1h-1zM804 105h1v1h-1zM805 104h1v1h-1zM806 102h1v2h-1zM807 101h1v1h-1zM808 100h1v1h-1zM809 98h1v2h-1zM810 97h1v1h-1zM811 95h1v2h-1zM812 94h1v1h-1zM813 93h1v1h-1zM814 91h1v2h-1zM815 90h1v1h-1zM816 89h1v1h-1zM817 88h1v1h-1zM818 86h1v2h-1zM819 85h1v1h-1zM820 84h1v1h-1zM821 83h1v1h-1zM822 82h1v1h-1zM823 80h1v2h-1zM824 79h1v1h-1zM825 77h1v2h-1zM826 76h1v1h-1zM827 75h1v1h-1zM828 73h1v2h-1zM829 72h1v1h-1zM830 71h1v1h-1zM831 70h1v1h-1zM832 69h2v1h-2zM834 68h1v1h-1zM835 67h1v1h-1zM836 66h2v1h-2zM838 65h2v1h-2zM840 64h2v1h-2zM842 65h2v1h-2zM844 66h5v1h-5zM849 67h5v1h-5zM854 68h4v1h-4zM858 69h3v1h-3zM861 70h2v1h-2zM863 71h2v1h-2zM865 72h2v1h-2zM867 73h2v1h-2zM869 74h2v1h-2zM871 75h2v1h-2zM873 76h2v1h-2zM875 77h4v1h-4zM879 78h2v1h-2zM881 79h2v1h-2zM883 80h2v1h-2zM885 81h2v1h-2zM887 82h2v1h-2zM889 83h4v1h-4zM893 84h2v1h-2zM895 85h2v1h-2zM897 86h2v1h-2zM899 87h2v1h-2zM901 88h2v1h-2zM903 89h3v1h-3zM906 90h3v1h-3zM909 91h3v1h-3zM912 92h2v1h-2zM914 93h2v1h-2zM916 94h2v1h-2zM918 95h2v1h-2zM920 96h2v1h-2zM922 97h4v1h-4zM926 98h3v1h-3zM929 99h3v1h-3zM932 100h4v1h-4zM936 101h3v1h-3zM939 102h3v1h-3zM942 103h2v1h-2zM944 104h3v1h-3zM947 105h2v1h-2zM949 106h3v1h-3zM952 107h2v1h-2zM954 108h3v1h-3zM957 109h2v1h-2zM959 110h3v1h-3zM962 111h2v1h-2zM964 112h3v1h-3zM967 113h2v1h-2zM969 114h3v1h-3zM972 115h2v1h-2zM974 116h3v1h-3zM977 117h2v1h-2zM979 118h4v1h-4zM983 119h18v1h-18zM1001 118h7v1h-7zM1008 117h5v1h-5zM1013 116h8v1h-8zM1021 115h10v1h-10zM1031 114h22v1h-22z"/>
<path fill="#000000" d="M5 113h1v1h-1zM6 114h1v1h-1zM7 115h1v1h-1zM8 116h1v2h-1zM9 118h1v1h-1zM10 119h1v1h-1zM11 120h1v1h-1zM12 121h1v1h-1zM13 122h1v2h-1zM14 124h1v1h-1zM15 125h1v1h-1zM16 126h1v2h-1zM17 128h1v1h-1zM18 129h1v1h-1zM19 130h1v1h-1zM20 131h1v2h-1zM21 133h1v1h-1zM22 134h1v1h-1zM23 135h1v2h-1zM24 137h1v2h-1zM25 139h1v2h-1zM26 141h1v2h-1zM27 143h1v1h-1zM28 144h1v2h-1zM29 146h1v2h-1zM30 148h1v2h-1zM31 150h1v2h-1zM32 152h1v1h-1zM33 153h1v2h-1zM34 155h1v2h-1zM35 157h1v2h-1zM36 159h1v1h-1zM37 160h1v2h-1zM38 162h1v2h-1zM39 164h1v1h-1zM40 165h1v2h-1zM41 167h1v1h-1zM42 168h1v2h-1zM43 170h1v1h-1zM44 171h1v2h-1zM45 173h1v1h-1zM46 174h1v1h-1zM47 175h1v2h-1zM48 177h1v1h-1zM49 178h1v2h-1zM50 180h1v1h-1zM51 181h1v2h-1zM52 183h1v1h-1zM53 184h1v2h-1zM54 186h1v1h-1zM55 187h1v2h-1zM56 189h1v1h-1zM57 190h1v2h-1zM58 192h1v1h-1zM59 193h1v2h-1zM60 195h1v1h-1zM61 196h1v2h-1zM62 198h1v1h-1zM63 199h1v2h-1zM64 201h1v1h-1zM65 202h1v1h-1zM66 203h1v2h-1zM67 205h1v1h-1zM68 206h1v1h-1zM69 207h1v2h-1zM70 209h1v1h-1zM71 210h1v1h-1zM72 211h1v2h-1zM73 213h1v1h-1zM74 214h1v1h-1zM75 215h1v1h-1zM76 216h1v2h-1zM77 218h1v1h-1zM78 219h1v1h-1zM79 220h1v1h-1zM80 221h1v2h-1zM81 223h1v1h-1zM82 224h1v1h-1zM83 225h1v2h-1zM84 227h1v2h-1zM85 229h1v1h-1zM86 230h1v2h-1zM87 232h1v1h-1zM88 233h1v1h-1zM89 234h1v1h-1zM90 235h1v1h-1zM91 236h1v1h-1zM92 237h1v1h-1zM93 238h1v1h-1zM94 239h2v1h-2zM96 240h1v1h-1zM97 241h1v1h-1zM98 242h2v1h-2zM100 243h1v1h-1zM101 244h1v1h-1zM102 245h2v1h-2zM104 246h1v1h-1zM105 247h2v1h-2zM107 248h1v1h-1zM108 249h2v1h-2zM110 250h1v1h-1zM111 251h2v1h-2zM113 252h1v1h-1zM114 253h2v1h-2zM116 254h1v1h-1zM117 255h2v1h-2zM119 256h1v1h-1zM120 257h2v1h-2zM122 258h2v1h-2zM124 259h2v1h-2zM126 260h2v1h-2zM128 261h2v1h-2zM130 262h2v1h-2zM132 263h2v1h-2zM134 264h2v1h-2zM136 265h2v1h-2zM138 266h2v1h-2zM140 267h2v1h-2zM142 268h2v1h-2zM144 269h2v1h-2zM146 270h2v1h-2zM148 271h2v1h-2zM150 272h1v1h-1zM151 273h2v1h-2zM153 274h2v1h-2zM155 275h2v1h-2zM157 276h2v1h-2zM159 277h3v1h-3zM162 278h2v1h-2zM164 279h3v1h-3zM167 280h2v1h-2zM169 281h2v1h-2zM171 282h2v1h-2zM173 283h2v1h-2zM175 284h5v1h-5zM180 285h19v1h-19zM199 284h5v1h-5zM204 283h2v1h-2zM206 282h2v1h-2zM208 281h2v1h-2zM210 280h1v1h-1zM211 279h1v1h-1zM212 278h1v1h-1zM213 277h1v1h-1zM214 276h1v1h-1zM215 275h1v1h-1zM216 274h2v1h-2zM218 273h2v1h-2zM220 272h1v1h-1zM221 271h2v1h-2zM223 270h1v1h-1zM224 269h1v1h-1zM225 268h2v1h-2zM227 267h1v1h-1zM228 266h1v1h-1zM229 265h1v1h-1zM230 264h1v1h-1zM231 263h1v1h-1zM232 262h2v1h-2zM234 261h1v1h-1zM235 260h1v1h-1zM236 259h1v1h-1zM237 258h1v1h-1zM238 257h1v1h-1zM239 256h1v1h-1zM240 255h1v1h-1zM241 253h1v2h-1zM242 252h1v1h-1zM243 251h1v1h-1zM244 250h1v1h-1zM245 249h1v1h-1zM246 248h1v1h-1zM247 247h1v1h-1zM248 246h1v1h-1zM249 245h1v1h-1zM250 243h1v2h-1zM251 242h1v1h-1zM252 241h1v1h-1zM253 240h1v1h-1zM254 239h1v1h-1zM255 238h1v1h-1zM256 236h1v2h-1zM257 235h1v1h-1zM258 233h1v2h-1zM259 232h1v1h-1zM260 231h1v1h-1zM261 229h1v2h-1zM262 228h1v1h-1zM263 227h1v1h-1zM264 226h1v1h-1zM265 225h1v1h-1zM266 223h1v2h-1zM267 222h1v1h-1zM268 221h1v1h-1zM269 220h1v1h-1zM270 219h1v1h-1zM271 218h1v1h-1zM272 217h1v1h-1zM273 216h2v1h-2zM275 215h1v1h-1zM276 214h1v1h-1zM277 213h1v1h-1zM278 212h1v1h-1zM279 210h1v2h-1zM280 209h1v1h-1zM281 208h1v1h-1zM282 207h1v1h-1zM283 205h1v2h-1zM284 204h1v1h-1zM285 203h1v1h-1zM286 201h1v2h-1zM287 200h1v1h-1zM288 198h1v2h-1zM289 197h1v1h-1zM290 196h1v1h-1zM291 194h1v2h-1zM292 193h1v1h-1zM293 192h1v1h-1zM294 190h1v2h-1zM295 189h1v1h-1zM296 188h1v1h-1zM297 187h1v1h-1zM298 186h2v1h-2zM300 185h1v1h-1zM301 184h1v1h-1zM302 183h1v1h-1zM303 182h2v1h-2zM305 181h1v1h-1zM306 180h1v1h-1zM307 179h2v1h-2zM309 178h2v1h-2zM311 177h2v1h-2zM313 176h2v1h-2zM315 175h3v1h-3zM318 174h2v1h-2zM320 173h3v1h-3zM323 172h2v1h-2zM325 171h2v1h-2zM327 170h3v1h-3zM330 169h2v1h-2zM332 168h2v1h-2zM334 167h3v1h-3zM337 166h2v1h-2zM339 165h2v1h-2zM341 164h2v1h-2zM343 163h1v1h-1zM344 162h1v1h-1zM345 161h2v1h-2zM347 160h1v1h-1zM348 159h2v1h-2zM350 158h2v1h-2zM352 157h1v1h-1zM353 156h2v1h-2zM355 155h1v1h-1zM356 154h2v1h-2zM358 153h1v1h-1zM359 152h2v1h-2zM361 151h2v1h-2zM363 150h1v1h-1zM364 149h2v1h-2zM366 148h2v1h-2zM368 147h2v1h-2zM370 146h2v1h-2zM372 145h2v1h-2zM374 144h2v1h-2zM376 143h1v1h-1zM377 142h2v1h-2zM379 141h1v1h-1zM380 140h1v1h-1zM381 139h2v1h-2zM383 138h2v1h-2zM385 137h2v1h-2zM387 136h1v1h-1zM388 135h2v1h-2zM390 134h2v1h-2zM392 133h2v1h-2zM394 132h3v1h-3zM397 131h4v1h-4zM401 130h4v1h-4zM405 129h4v1h-4zM409 128h7v1h-7zM416 129h10v1h-10zM426 130h7v1h-7zM433 131h5v1h-5zM438 132h5v1h-5zM443 133h7v1h-7zM450 132h8v1h-8zM458 131h16v1h-16zM474 132h7v1h-7zM481 133h6v1h-6zM487 134h6v1h-6zM493 135h6v1h-6zM499 136h4v1h-4zM503 137h4v1h-4zM507 138h3v1h-3zM510 139h2v1h-2zM512 140h3v1h-3zM515 141h2v1h-2zM517 142h3v1h-3zM520 143h4v1h-4zM524 144h6v1h-6zM530 145h10v1h-10zM540 146h7v1h-7zM547 147h3v1h-3zM550 148h2v1h-2zM552 149h3v1h-3zM555 150h3v1h-3zM558 151h3v1h-3zM561 152h3v1h-3zM564 153h3v1h-3zM567 154h2v1h-2zM569 155h2v1h-2zM571 156h2v1h-2zM573 157h2v1h-2zM575 158h1v1h-1zM576 159h2v1h-2zM578 160h2v1h-2zM580 161h1v1h-1zM581 162h2v1h-2zM583 163h2v1h-2zM585 164h1v1h-1zM586 165h1v1h-1zM587 166h1v1h-1zM588 167h1v1h-1zM589 168h2v1h-2zM591 169h1v1h-1zM592 170h1v1h-1zM593 171h1v1h-1zM594 172h1v1h-1zM595 173h2v1h-2zM597 174h1v1h-1zM598 175h2v1h-2zM600 176h1v1h-1zM601 177h1v1h-1zM602 178h2v1h-2zM604 179h1v1h-1zM605 180h2v1h-2zM607 181h1v1h-1zM608 182h2v1h-2zM610 183h1v1h-1zM611 184h1v1h-1zM612 185h2v1h-2zM614 186h2v1h-2zM616 187h2v1h-2zM618 188h3v1h-3zM621 189h2v1h-2zM623 190h3v1h-3zM626 191h2v1h-2zM628 192h2v1h-2zM630 193h2v1h-2zM632 194h2v1h-2zM634 195h2v1h-2zM636 196h2v1h-2zM638 197h2v1h-2zM640 198h2v1h-2zM642 199h2v1h-2zM644 200h3v1h-3zM647 201h3v1h-3zM650 202h2v1h-2zM652 203h3v1h-3zM655 204h2v1h-2zM657 205h2v1h-2zM659 206h1v1h-1zM660 207h2v1h-2zM662 208h1v1h-1zM663 209h2v1h-2zM665 210h1v1h-1zM666 211h2v1h-2zM668 212h1v1h-1zM669 213h1v1h-1zM670 214h2v1h-2zM672 215h1v1h-1zM673 216h2v1h-2zM675 217h1v1h-1zM676 218h1v1h-1zM677 219h2v1h-2zM679 220h1v1h-1zM680 221h2v1h-2zM682 222h2v1h-2zM684 223h2v1h-2zM686 224h1v1h-1zM687 225h2v1h-2zM689 226h1v1h-1zM690 227h2v1h-2zM692 228h2v1h-2zM694 229h2v1h-2zM696 230h2v1h-2zM698 231h3v1h-3zM701 230h2v1h-2zM703 229h2v1h-2zM705 228h2v1h-2zM707 227h2v1h-2zM709 226h2v1h-2zM711 225h2v1h-2zM713 224h2v1h-2zM715 223h2v1h-2zM717 222h1v1h-1zM718 221h1v1h-1zM719 220h2v1h-2zM721 219h1v1h-1zM722 218h2v1h-2zM724 217h1v1h-1zM725 216h1v1h-1zM726 215h2v1h-2zM728 214h1v1h-1zM729 213h2v1h-2zM731 212h1v1h-1zM732 211h1v1h-1zM733 210h2v1h-2zM735 209h1v1h-1zM736 208h1v1h-1zM737 207h2v1h-2zM739 206h1v1h-1zM740 205h2v1h-2zM742 204h1v1h-1zM743 203h1v1h-1zM744 202h2v1h-2zM746 201h1v1h-1zM747 200h2v1h-2zM749 199h1v1h-1zM750 198h1v1h-1zM751 197h2v1h-2zM753 196h1v1h-1zM754 195h2v1h-2zM756 194h1v1h-1zM757 193h1v1h-1zM758 192h2v1h-2zM760 191h1v1h-1zM761 190h2v1h-2zM763 189h1v1h-1zM764 188h2v1h-2zM766 187h1v1h-1zM767 186h1v1h-1zM768 185h2v1h-2zM770 184h1v1h-1zM771 183h1v1h-1zM772 182h2v1h-2zM774 181h1v1h-1zM775 180h1v1h-1zM776 179h1v1h-1zM777 178h2v1h-2zM779 177h1v1h-1zM780 176h1v1h-1zM781 175h1v1h-1zM782 174h2v1h-2zM784 173h1v1h-1zM785 172h1v1h-1zM786 171h1v1h-1zM787 170h2v1h-2zM789 169h1v1h-1zM790 168h1v1h-1zM791 167h1v1h-1zM792 166h2v1h-2zM794 165h1v1h-1zM795 164h1v1h-1zM796 163h1v1h-1zM797 162h1v1h-1zM798 161h2v1h-2zM800 160h1v1h-1zM801 159h1v1h-1zM802 158h1v1h-1zM803 157h1v1h-1zM804 156h2v1h-2zM806 155h1v1h-1zM807 154h1v1h-1zM808 153h1v1h-1zM809 152h1v1h-1zM810 151h1v1h-1zM811 150h2v1h-2zM813 149h1v1h-1zM814 148h1v1h-1zM815 147h1v1h-1zM816 146h1v1h-1zM817 145h1v1h-1zM818 144h1v1h-1zM819 143h1v1h-1zM820 142h1v1h-1zM821 141h2v1h-2zM823 140h1v1h-1zM824 139h1v1h-1zM825 138h1v1h-1zM826 137h1v1h-1zM827 136h1v1h-1zM828 135h1v1h-1zM829 134h1v1h-1zM830 133h1v1h-1zM831 132h1v1h-1zM832 131h1v1h-1zM833 130h1v1h-1zM834 129h2v1h-2zM836 128h1v1h-1zM837 127h1v1h-1zM838 126h1v1h-1zM839 125h1v1h-1zM840 124h1v1h-1zM841 123h1v1h-1zM842 122h1v1h-1zM843 121h2v1h-2zM845 120h1v1h-1zM846 119h2v1h-2zM848 118h1v1h-1zM849 117h2v1h-2zM851 116h1v1h-1zM852 115h2v1h-2zM854 114h2v1h-2zM856 113h2v1h-2zM858 112h1v1h-1zM859 111h1v1h-1zM860 110h1v1h-1zM861 109h2v1h-2zM863 108h1v1h-1zM864 107h1v1h-1zM865 106h1v1h-1zM866 105h2v1h-2zM868 104h1v1h-1zM869 103h1v1h-1zM870 102h2v1h-2zM872 101h1v1h-1zM873 100h2v1h-2zM875 99h2v1h-2zM877 98h2v1h-2zM879 97h1v1h-1zM880 96h2v1h-2zM882 95h1v1h-1zM883 94h1v1h-1zM884 93h2v1h-2zM886 92h1v1h-1zM887 91h2v1h-2zM889 90h2v1h-2zM891 89h2v1h-2zM893 88h1v1h-1zM894 87h2v1h-2zM896 86h2v1h-2zM898 85h2v1h-2zM900 84h1v1h-1zM901 83h2v1h-2zM903 82h2v1h-2zM905 81h2v1h-2zM907 80h10v1h-10zM917 81h5v1h-5zM922 82h4v1h-4zM926 83h3v1h-3zM929 84h3v1h-3zM932 85h2v1h-2zM934 86h3v1h-3zM937 87h2v1h-2zM939 88h3v1h-3zM942 89h4v1h-4zM946 90h3v1h-3zM949 91h3v1h-3zM952 92h2v1h-2zM954 93h3v1h-3zM957 94h2v1h-2zM959 95h3v1h-3zM962 96h4v1h-4zM966 97h3v1h-3zM969 98h3v1h-3zM972 99h2v1h-2zM974 100h3v1h-3zM977 101h2v1h-2zM979 102h4v1h-4zM983 103h4v1h-4zM987 104h3v1h-3zM990 105h4v1h-4zM994 106h4v1h-4zM998 107h5v1h-5zM1003 108h21v1h-21zM1024 109h8v1h-8zM1032 110h7v1h-7zM1039 111h8v1h-8zM1047 112h11v1h-11zM1058 113h15v1h-15zM1073 114h13v1h-13zM1086 115h5v1h-5z"/>
<path fill="#008000" d="M5 113h4v1h-4zM9 114h6v1h-6zM15 115h6v1h-6zM21 116h4v1h-4zM25 117h2v1h-2zM27 118h2v1h-2zM29 119h2v1h-2zM31 120h2v1h-2zM33 121h1v1h-1zM34 122h1v1h-1zM35 123h1v1h-1zM36 124h1v1h-1zM37 125h1v1h-1zM38 126h2v1h-2zM40 127h1v1h-1zM41 128h1v1h-1zM42 129h1v1h-1zM43 130h1v1h-1zM44 131h1v1h-1zM45 132h2v1h-2zM47 133h2v1h-2zM49 134h2v1h-2zM51 135h2v1h-2zM53 136h2v1h-2zM55 137h3v1h-3zM58 138h2v1h-2zM60 139h2v1h-2zM62 140h2v1h-2zM64 141h2v1h-2zM66 142h2v1h-2zM68 143h2v1h-2zM70 144h1v1h-1zM71 145h1v1h-1zM72 146h2v1h-2zM74 147h1v1h-1zM75 148h1v1h-1zM76 149h2v1h-2zM78 150h1v1h-1zM79 151h1v1h-1zM80 152h2v1h-2zM82 153h1v1h-1zM83 154h1v1h-1zM84 155h2v1h-2zM86 156h1v1h-1zM87 157h2v1h-2zM89 158h2v1h-2zM91 159h2v1h-2zM93 160h2v1h-2zM95 161h2v1h-2zM97 162h2v1h-2zM99 163h2v1h-2zM101 164h5v1h-5zM106 165h6v1h-6zM112 166h4v1h-4zM116 167h3v1h-3zM119 168h2v1h-2zM121 169h3v1h-3zM124 170h4v1h-4zM128 171h6v1h-6zM134 172h5v1h-5zM139 173h6v1h-6zM145 174h4v1h-4zM149 175h4v1h-4zM153 176h4v1h-4zM157 177h3v1h-3zM160 178h4v1h-4zM164 179h3v1h-3zM167 180h2v1h-2zM169 181h2v1h-2zM171 182h2v1h-2zM173 183h2v1h-2zM175 184h2v1h-2zM177 185h2v1h-2zM179 186h3v1h-3zM182 187h4v1h-4zM186 188h4v1h-4zM190 189h4v1h-4zM194 190h5v1h-5zM199 191h8v1h-8zM207 192h5v1h-5zM212 193h4v1h-4zM216 194h4v1h-4zM220 195h4v1h-4zM224 196h3v1h-3zM227 197h4v1h-4zM231 198h4v1h-4zM235 199h3v1h-3zM238 200h4v1h-4zM242 201h3v1h-3zM245 202h4v1h-4zM249 203h4v1h-4zM253 204h4v1h-4zM257 205h5v1h-5zM262 206h6v1h-6zM268 207h5v1h-5zM273 208h6v1h-6zM279 209h10v1h-10zM289 210h11v1h-11zM300 211h8v1h-8zM308 212h11v1h-11zM319 213h11v1h-11zM330 214h18v1h-18zM348 213h8v1h-8zM356 212h19v1h-19zM375 211h9v1h-9zM384 210h8v1h-8zM392 209h8v1h-8zM400 208h8v1h-8zM408 207h6v1h-6zM414 206h3v1h-3zM417 205h3v1h-3zM420 204h3v1h-3zM423 203h3v1h-3zM426 202h3v1h-3zM429 201h3v1h-3zM432 200h2v1h-2zM434 199h3v1h-3zM437 198h3v1h-3zM440 197h2v1h-2zM442 196h2v1h-2zM444 195h2v1h-2zM446 194h2v1h-2zM448 193h2v1h-2zM450 192h2v1h-2zM452 191h2v1h-2zM454 190h2v1h-2zM456 189h1v1h-1zM457 188h1v1h-1zM458 187h2v1h-2zM460 186h2v1h-2zM462 185h2v1h-2zM464 184h2v1h-2zM466 183h2v1h-2zM468 182h2v1h-2zM470 181h2v1h-2zM472 180h2v1h-2zM474 179h3v1h-3zM477 178h2v1h-2zM479 177h2v1h-2zM481 176h3v1h-3zM484 175h2v1h-2zM486 174h2v1h-2zM488 173h2v1h-2zM490 172h2v1h-2zM492 171h2v1h-2zM494 170h1v1h-1zM495 169h2v1h-2zM497 168h2v1h-2zM499 167h1v1h-1zM500 166h2v1h-2zM502 165h2v1h-2zM504 164h4v1h-4zM508 163h3v1h-3zM511 162h3v1h-3zM514 161h4v1h-4zM518 160h5v1h-5zM523 159h11v1h-11zM534 158h9v1h-9zM543 157h5v1h-5zM548 156h8v1h-8zM556 155h10v1h-10zM566 154h30v1h-30zM596 155h7v1h-7zM603 156h4v1h-4zM607 157h4v1h-4zM611 158h4v1h-4zM615 159h6v1h-6zM621 160h6v1h-6zM627 161h6v1h-6zM633 162h4v1h-4zM637 163h4v1h-4zM641 164h4v1h-4zM645 165h4v1h-4zM649 166h3v1h-3zM652 167h4v1h-4zM656 168h4v1h-4zM660 169h4v1h-4zM664 170h3v1h-3zM667 171h2v1h-2zM669 172h3v1h-3zM672 173h2v1h-2zM674 174h3v1h-3zM677 175h2v1h-2zM679 176h3v1h-3zM682 177h2v1h-2zM684 178h3v1h-3zM687 179h2v1h-2zM689 180h3v1h-3zM692 181h3v1h-3zM695 182h18v1h-18zM713 181h5v1h-5zM718 180h5v1h-5zM723 179h4v1h-4zM727 178h4v1h-4zM731 177h4v1h-4zM735 176h4v1h-4zM739 175h3v1h-3zM742 174h4v1h-4zM746 173h4v1h-4zM750 172h4v1h-4zM754 171h5v1h-5zM759 170h6v1h-6zM765 169h6v1h-6zM771 168h6v1h-6zM777 167h7v1h-7zM784 166h8v1h-8zM792 165h10v1h-10zM802 164h12v1h-12zM814 163h9v1h-9zM823 162h5v1h-5zM828 161h5v1h-5zM833 160h5v1h-5zM838 159h8v1h-8zM846 158h10v1h-10zM856 157h12v1h-12zM868 156h30v1h-30zM898 155h15v1h-15zM913 154h11v1h-11zM924 153h8v1h-8zM932 152h6v1h-6zM938 151h5v1h-5zM943 150h5v1h-5zM948 149h5v1h-5zM953 148h5v1h-5zM958 147h5v1h-5zM963 146h6v1h-6zM969 145h8v1h-8zM977 144h5v1h-5zM982 143h4v1h-4zM986 142h4v1h-4zM990 141h4v1h-4zM994 140h3v1h-3zM997 139h2v1h-2zM999 138h3v1h-3zM1002 137h2v1h-2zM1004 136h3v1h-3zM1007 135h2v1h-2zM1009 134h3v1h-3zM1012 133h2v1h-2zM1014 132h3v1h-3zM1017 131h2v1h-2zM1019 130h3v1h-3zM1022 129h2v1h-2zM1024 128h3v1h-3zM1027 127h4v1h-4zM1031 126h3v1h-3zM1034 125h3v1h-3zM1037 124h2v1h-2zM1039 123h3v1h-3zM1042 122h2v1h-2zM1044 121h3v1h-3zM1047 120h4v1h-4zM1051 119h3v1h-3zM1054 118h4v1h-4zM1058 117h5v1h-5zM1063 116h4v1h-4zM1067 115h2v1h-2zM1069 114h3v1h-3zM1072 113h2v1h-2zM1074 112h3v1h-3zM1077 111h2v1h-2zM1079 110h3v1h-3zM1082 109h2v1h-2zM1084 108h3v1h-3zM1087 107h2v1h-2zM1089 106h2v1h-2z"/>
<path d="M712.5 30.5L733 35.5" stroke="#0000ff" fill="none"/>
<path d="M83.5 419.5L102 414.5" stroke="#0000ff" fill="none"/>
<path d="M866.5 419L870.5 423H862.5Z" fill="#000"/>
</g>
<text class="cj" x="0" y="0" font-size="29" font-weight="300" fill="#ff0000" transform="translate(938,476.5) skewX(-9) scale(0.84,1)" textLength="176" lengthAdjust="spacing">赢家财富网</text>
</svg></body></html>
